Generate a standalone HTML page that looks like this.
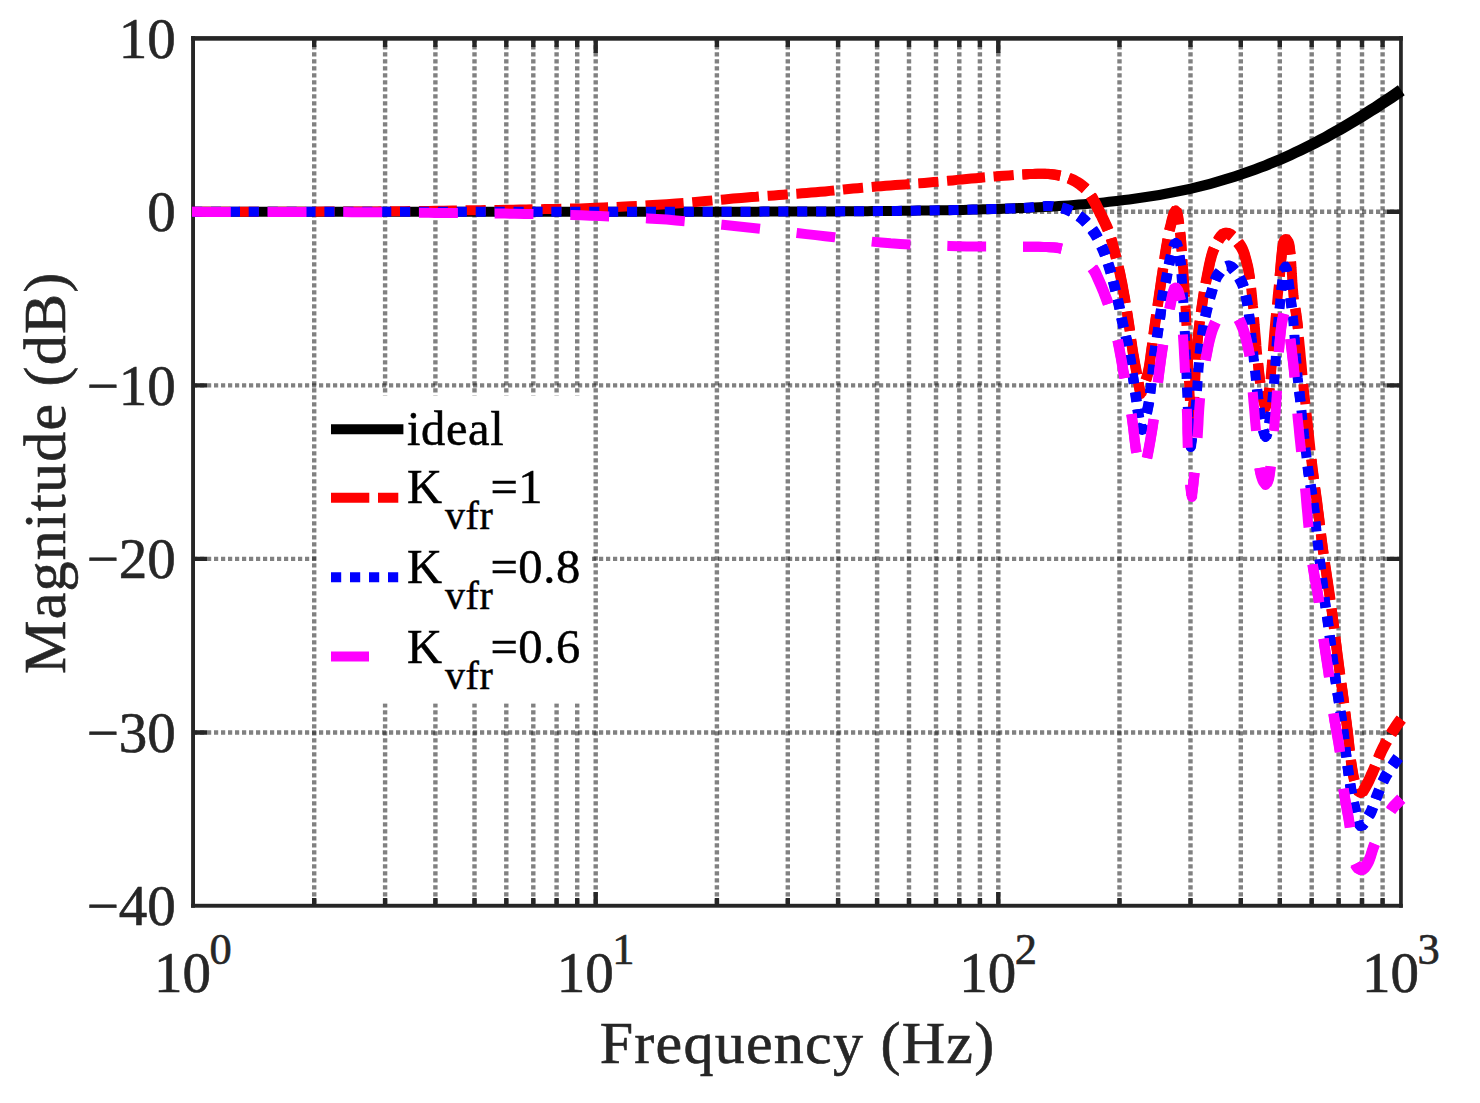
<!DOCTYPE html><html><head><meta charset="utf-8"><title>Bode magnitude</title>
<style>html,body{margin:0;padding:0;background:#fff}svg{display:block}text{font-family:"Liberation Serif",serif}</style></head><body>
<svg width="1480" height="1103" viewBox="0 0 1480 1103">
<rect width="1480" height="1103" fill="#fff"/>
<defs><clipPath id="ax"><rect x="192.0" y="38.3" width="1209.0" height="867.7"/></clipPath></defs>
<g fill="none" stroke="#262626" stroke-opacity="0.58" stroke-width="4.4" stroke-dasharray="4.2 2.8">
<path d="M314.2 38.3V906.0M385.1 38.3V906.0M435.4 38.3V906.0M474.5 38.3V906.0M506.3 38.3V906.0M533.3 38.3V906.0M556.6 38.3V906.0M577.2 38.3V906.0M595.7 38.3V906.0M716.9 38.3V906.0M787.8 38.3V906.0M838.1 38.3V906.0M877.1 38.3V906.0M909.0 38.3V906.0M936.0 38.3V906.0M959.3 38.3V906.0M979.9 38.3V906.0M998.3 38.3V906.0M1119.5 38.3V906.0M1190.5 38.3V906.0M1240.8 38.3V906.0M1279.8 38.3V906.0M1311.7 38.3V906.0M1338.6 38.3V906.0M1362.0 38.3V906.0M1382.6 38.3V906.0"/>
<path d="M193.0 211.8H1401.0M193.0 385.4H1401.0M193.0 558.9H1401.0M193.0 732.5H1401.0"/>
</g>
<g fill="#262626" stroke="none">
<rect x="191.1" y="36.1" width="1211.7" height="4.6"/>
<rect x="191.1" y="903.8" width="1211.7" height="3.9"/>
<rect x="191.1" y="36.1" width="3.9" height="871.6"/>
<rect x="1399.1" y="36.1" width="3.7" height="871.6"/>
</g>
<g fill="none" stroke="#262626" stroke-width="4.4">
<path d="M314.2 904V897.9M314.2 40V47M385.1 904V897.9M385.1 40V47M435.4 904V897.9M435.4 40V47M474.5 904V897.9M474.5 40V47M506.3 904V897.9M506.3 40V47M533.3 904V897.9M533.3 40V47M556.6 904V897.9M556.6 40V47M577.2 904V897.9M577.2 40V47M595.7 904V891.9M595.7 40V53M716.9 904V897.9M716.9 40V47M787.8 904V897.9M787.8 40V47M838.1 904V897.9M838.1 40V47M877.1 904V897.9M877.1 40V47M909.0 904V897.9M909.0 40V47M936.0 904V897.9M936.0 40V47M959.3 904V897.9M959.3 40V47M979.9 904V897.9M979.9 40V47M998.3 904V891.9M998.3 40V53M1119.5 904V897.9M1119.5 40V47M1190.5 904V897.9M1190.5 40V47M1240.8 904V897.9M1240.8 40V47M1279.8 904V897.9M1279.8 40V47M1311.7 904V897.9M1311.7 40V47M1338.6 904V897.9M1338.6 40V47M1362.0 904V897.9M1362.0 40V47M1382.6 904V897.9M1382.6 40V47M194 211.8H207M1400 211.8H1387M194 385.4H207M1400 385.4H1387M194 558.9H207M1400 558.9H1387M194 732.5H207M1400 732.5H1387"/>
</g>
<g fill="none" stroke-linejoin="round">
<path d="M192.0 216.8L193.0 216.8L198.0 216.8L203.1 216.8L208.1 216.8L213.1 216.8L218.2 216.8L223.2 216.8L228.2 216.8L233.3 216.8L238.3 216.8L243.3 216.8L248.4 216.8L253.4 216.8L258.4 216.8L263.5 216.8L268.5 216.8L273.5 216.8L278.6 216.8L283.6 216.8L288.6 216.8L293.7 216.8L298.7 216.8L303.7 216.8L308.8 216.8L313.8 216.8L318.8 216.8L323.9 216.8L328.9 216.8L333.9 216.8L339.0 216.8L344.0 216.8L349.0 216.8L354.1 216.8L359.1 216.8L364.1 216.8L369.2 216.8L374.2 216.8L379.2 216.8L384.3 216.8L389.3 216.8L394.3 216.8L399.4 216.8L404.4 216.8L409.4 216.8L414.5 216.8L419.5 216.8L424.5 216.8L429.6 216.8L434.6 216.8L439.6 216.8L444.7 216.8L449.7 216.8L454.7 216.8L459.8 216.8L464.8 216.8L469.8 216.8L474.9 216.8L479.9 216.8L484.9 216.8L490.0 216.8L495.0 216.8L500.0 216.8L505.1 216.8L510.1 216.8L515.1 216.8L520.2 216.8L525.2 216.8L530.2 216.8L535.3 216.8L540.3 216.8L545.3 216.8L550.4 216.8L555.4 216.8L560.4 216.8L565.5 216.8L570.5 216.8L575.5 216.8L580.6 216.8L585.6 216.8L590.6 216.8L595.7 216.8L600.7 216.8L605.7 216.8L610.8 216.8L615.8 216.8L620.8 216.8L625.9 216.8L630.9 216.8L635.9 216.8L641.0 216.8L646.0 216.8L651.0 216.8L656.1 216.8L661.1 216.8L666.1 216.8L671.2 216.8L676.2 216.8L681.2 216.8L686.3 216.8L691.3 216.8L696.3 216.7L701.4 216.7L706.4 216.7L711.4 216.7L716.5 216.7L721.5 216.7L726.5 216.7L731.6 216.7L736.6 216.7L741.6 216.7L746.7 216.7L751.7 216.7L756.7 216.7L761.8 216.6L766.8 216.6L771.8 216.6L776.9 216.6L781.9 216.6L786.9 216.6L792.0 216.6L797.0 216.5L802.1 216.5L807.1 216.5L812.1 216.5L817.2 216.5L822.2 216.4L827.2 216.4L832.3 216.4L837.3 216.4L842.3 216.3L847.4 216.3L852.4 216.3L857.4 216.2L862.5 216.2L867.5 216.2L872.5 216.1L877.6 216.1L882.6 216.0L887.6 216.0L892.7 215.9L897.7 215.9L902.8 215.8L907.8 215.8L912.8 215.7L917.9 215.6L922.9 215.6L927.9 215.5L933.0 215.4L938.0 215.3L943.1 215.3L948.1 215.2L953.1 215.1L958.2 215.0L963.2 214.9L968.3 214.7L973.3 214.6L978.3 214.5L983.4 214.3L988.4 214.2L993.5 214.0L998.5 213.9L1003.5 213.7L1008.6 213.5L1013.6 213.3L1018.7 213.1L1023.7 212.9L1028.8 212.7L1033.8 212.5L1038.9 212.2L1043.9 211.9L1049.0 211.7L1054.0 211.4L1059.1 211.1L1064.1 210.7L1069.2 210.4L1074.2 210.0L1079.3 209.6L1084.3 209.2L1089.4 208.8L1094.4 208.3L1099.5 207.9L1104.5 207.4L1109.6 206.8L1114.7 206.3L1119.7 205.7L1124.8 205.1L1129.9 204.5L1134.9 203.8L1140.0 203.1L1145.1 202.3L1150.1 201.5L1155.2 200.7L1160.3 199.9L1165.3 199.0L1170.4 198.0L1175.5 197.1L1180.6 196.0L1185.7 195.0L1190.7 193.9L1195.8 192.7L1200.9 191.5L1206.0 190.2L1211.1 188.9L1216.2 187.5L1221.2 186.1L1226.3 184.6L1231.4 183.1L1236.5 181.5L1241.6 179.8L1246.7 178.1L1251.8 176.3L1256.9 174.5L1262.0 172.6L1267.1 170.7L1272.2 168.6L1277.3 166.6L1282.4 164.4L1287.5 162.2L1292.6 159.9L1297.6 157.6L1302.7 155.2L1307.8 152.8L1312.9 150.3L1318.0 147.7L1323.1 145.0L1328.2 142.4L1333.3 139.6L1338.4 136.8L1343.5 133.9L1348.6 131.0L1353.6 128.0L1358.7 125.0L1363.8 121.9L1368.9 118.8L1374.0 115.6L1379.1 112.4L1384.1 109.1L1389.2 105.8L1394.3 102.4L1399.4 99.0L1404.7 95.3L1397.9 85.3L1392.6 89.0L1387.6 92.4L1382.6 95.8L1377.6 99.1L1372.6 102.4L1367.6 105.6L1362.6 108.8L1357.6 111.9L1352.7 115.0L1347.7 118.0L1342.7 121.0L1337.7 123.9L1332.7 126.8L1327.8 129.6L1322.8 132.4L1317.8 135.0L1312.8 137.7L1307.9 140.3L1302.9 142.8L1297.9 145.2L1293.0 147.6L1288.0 149.9L1283.0 152.2L1278.0 154.4L1273.1 156.6L1268.1 158.6L1263.1 160.7L1258.2 162.6L1253.2 164.5L1248.2 166.3L1243.2 168.1L1238.3 169.8L1233.3 171.5L1228.3 173.1L1223.3 174.6L1218.4 176.1L1213.4 177.5L1208.4 178.9L1203.4 180.2L1198.4 181.5L1193.5 182.7L1188.5 183.9L1183.5 185.0L1178.5 186.0L1173.5 187.1L1168.5 188.0L1163.5 189.0L1158.5 189.9L1153.5 190.7L1148.5 191.5L1143.5 192.3L1138.5 193.1L1133.5 193.8L1128.5 194.5L1123.5 195.1L1118.5 195.7L1113.5 196.3L1108.5 196.8L1103.5 197.4L1098.5 197.9L1093.5 198.3L1088.5 198.8L1083.5 199.2L1078.5 199.6L1073.5 200.0L1068.4 200.4L1063.4 200.7L1058.4 201.1L1053.4 201.4L1048.4 201.7L1043.4 201.9L1038.3 202.2L1033.3 202.5L1028.3 202.7L1023.3 202.9L1018.3 203.1L1013.2 203.3L1008.2 203.5L1003.2 203.7L998.2 203.9L993.1 204.0L988.1 204.2L983.1 204.3L978.1 204.5L973.0 204.6L968.0 204.7L963.0 204.9L958.0 205.0L952.9 205.1L947.9 205.2L942.9 205.3L937.8 205.3L932.8 205.4L927.8 205.5L922.8 205.6L917.7 205.6L912.7 205.7L907.7 205.8L902.6 205.8L897.6 205.9L892.6 205.9L887.6 206.0L882.5 206.0L877.5 206.1L872.5 206.1L867.4 206.2L862.4 206.2L857.4 206.2L852.3 206.3L847.3 206.3L842.3 206.3L837.2 206.4L832.2 206.4L827.2 206.4L822.1 206.4L817.1 206.5L812.1 206.5L807.0 206.5L802.0 206.5L797.0 206.5L792.0 206.6L786.9 206.6L781.9 206.6L776.9 206.6L771.8 206.6L766.8 206.6L761.8 206.6L756.7 206.7L751.7 206.7L746.7 206.7L741.6 206.7L736.6 206.7L731.6 206.7L726.5 206.7L721.5 206.7L716.5 206.7L711.4 206.7L706.4 206.7L701.4 206.7L696.3 206.7L691.3 206.8L686.3 206.8L681.2 206.8L676.2 206.8L671.2 206.8L666.1 206.8L661.1 206.8L656.1 206.8L651.0 206.8L646.0 206.8L641.0 206.8L635.9 206.8L630.9 206.8L625.9 206.8L620.8 206.8L615.8 206.8L610.8 206.8L605.7 206.8L600.7 206.8L595.7 206.8L590.6 206.8L585.6 206.8L580.6 206.8L575.5 206.8L570.5 206.8L565.5 206.8L560.4 206.8L555.4 206.8L550.4 206.8L545.3 206.8L540.3 206.8L535.3 206.8L530.2 206.8L525.2 206.8L520.2 206.8L515.1 206.8L510.1 206.8L505.1 206.8L500.0 206.8L495.0 206.8L490.0 206.8L484.9 206.8L479.9 206.8L474.9 206.8L469.8 206.8L464.8 206.8L459.8 206.8L454.7 206.8L449.7 206.8L444.7 206.8L439.6 206.8L434.6 206.8L429.6 206.8L424.5 206.8L419.5 206.8L414.5 206.8L409.4 206.8L404.4 206.8L399.4 206.8L394.3 206.8L389.3 206.8L384.3 206.8L379.2 206.8L374.2 206.8L369.2 206.8L364.1 206.8L359.1 206.8L354.1 206.8L349.0 206.8L344.0 206.8L339.0 206.8L333.9 206.8L328.9 206.8L323.9 206.8L318.8 206.8L313.8 206.8L308.8 206.8L303.7 206.8L298.7 206.8L293.7 206.8L288.6 206.8L283.6 206.8L278.6 206.8L273.5 206.8L268.5 206.8L263.5 206.8L258.4 206.8L253.4 206.8L248.4 206.8L243.3 206.8L238.3 206.8L233.3 206.8L228.2 206.8L223.2 206.8L218.2 206.8L213.1 206.8L208.1 206.8L203.1 206.8L198.0 206.8L193.0 206.8L192.0 206.8Z" fill="#000" stroke="none"/>
<path d="M192.0 211.8L193.0 211.8L208.4 211.8L224.1 211.8L239.9 211.8L255.6 211.8L271.1 211.8L286.2 211.7L300.6 211.7L314.2 211.7L324.1 211.6L333.6 211.6L342.7 211.6L351.6 211.5L360.3 211.5L368.7 211.4L377.0 211.4L385.1 211.3L391.8 211.3L398.1 211.2L404.2 211.2L410.3 211.1L416.3 211.0L422.4 211.0L428.8 210.9L435.4 210.8L443.8 210.7L452.6 210.6L461.7 210.4L470.9 210.3L480.1 210.2L489.2 210.0L498.0 209.9L506.3 209.8L513.1 209.7L519.7 209.5L526.1 209.4L532.4 209.3L538.6 209.2L544.7 209.1L550.7 209.0L556.6 208.9L561.7 208.8L566.5 208.7L571.1 208.6L575.7 208.5L580.4 208.4L585.2 208.2L590.3 208.0L595.7 207.8L603.5 207.5L611.9 207.2L620.6 206.8L629.7 206.3L638.9 205.9L648.2 205.3L657.5 204.8L666.6 204.2L676.0 203.5L685.7 202.8L695.6 201.9L705.4 201.1L715.1 200.2L724.4 199.4L733.2 198.6L741.3 198.0L746.6 197.5L751.6 197.1L756.3 196.8L760.9 196.4L765.3 196.0L769.8 195.7L774.2 195.4L778.8 195.0L783.4 194.7L788.1 194.3L792.7 194.0L797.3 193.7L801.9 193.3L806.5 193.0L811.1 192.6L815.7 192.2L820.4 191.8L825.1 191.4L829.8 190.9L834.4 190.4L839.1 190.0L843.8 189.5L848.5 189.0L853.2 188.6L857.8 188.2L862.5 187.8L867.2 187.4L871.8 187.0L876.5 186.6L881.2 186.2L885.9 185.8L890.6 185.5L895.4 185.1L900.2 184.7L905.0 184.4L909.8 184.0L914.7 183.6L919.5 183.3L924.3 182.9L929.1 182.5L933.8 182.1L938.5 181.7L943.2 181.2L947.9 180.8L952.5 180.4L957.2 179.9L961.9 179.5L966.6 179.0L971.3 178.6L976.0 178.2L980.7 177.7L985.4 177.3L990.1 176.9L994.8 176.5L999.5 176.1L1004.2 175.7L1009.0 175.4L1014.0 175.0L1019.2 174.7L1024.2 174.4L1029.2 174.1L1033.8 173.9L1038.0 173.7L1041.6 173.7L1043.4 173.7L1045.0 173.8L1046.5 173.9L1047.9 174.0L1049.2 174.1L1050.5 174.2L1051.7 174.3L1053.0 174.5L1054.0 174.6L1055.0 174.8L1055.9 174.9L1056.8 175.0L1057.7 175.2L1058.6 175.4L1059.5 175.6L1060.5 175.8L1061.6 176.1L1062.8 176.3L1063.9 176.6L1065.1 177.0L1066.3 177.3L1067.4 177.7L1068.6 178.1L1069.7 178.5L1070.8 178.9L1071.8 179.4L1072.9 179.9L1073.9 180.5L1074.9 181.0L1075.9 181.6L1076.9 182.2L1077.9 182.8L1078.9 183.5L1079.9 184.2L1080.9 184.9L1081.9 185.6L1082.8 186.4L1083.8 187.2L1084.6 188.0L1085.5 188.8L1086.3 189.6L1087.0 190.4L1087.6 191.1L1088.3 192.0L1088.9 192.8L1089.6 193.7L1090.2 194.7L1090.9 195.7L1091.9 197.4L1093.0 199.2L1094.1 201.2L1095.2 203.3L1096.3 205.5L1097.4 207.7L1098.5 209.9L1099.6 212.0L1100.7 214.2L1101.8 216.4L1102.9 218.7L1104.0 221.0L1105.1 223.2L1106.1 225.4L1107.0 227.5L1107.8 229.4L1108.3 230.7L1108.8 231.8L1109.2 233.0L1109.6 234.0L1110.0 235.1L1110.3 236.2L1110.7 237.4L1111.1 238.7L1111.6 240.5L1112.2 242.5L1112.7 244.5L1113.3 246.6L1113.8 248.7L1114.3 250.9L1114.9 253.0L1115.4 255.0L1115.9 256.9L1116.4 258.7L1116.8 260.5L1117.3 262.3L1117.8 264.1L1118.3 266.0L1118.7 267.9L1119.2 270.0L1119.8 272.8L1120.5 275.9L1121.1 279.0L1121.7 282.3L1122.4 285.5L1123.0 288.9L1123.6 292.2L1124.2 295.4L1124.8 298.6L1125.3 301.8L1125.9 305.1L1126.4 308.3L1126.9 311.5L1127.5 314.8L1128.0 318.1L1128.5 321.5L1129.1 325.2L1129.6 329.0L1130.1 332.9L1130.7 336.8L1131.2 340.7L1131.8 344.6L1132.3 348.3L1132.9 352.0L1133.4 355.2L1134.0 358.3L1134.5 361.4L1135.1 364.4L1135.6 367.4L1136.2 370.3L1136.7 373.2L1137.2 376.0L1137.6 378.4L1138.1 380.8L1138.5 383.1L1138.9 385.4L1139.3 387.6L1139.7 389.9L1140.1 392.1L1140.5 394.4L1141.4 392.0L1142.3 389.6L1143.3 387.2L1144.2 384.8L1145.1 382.3L1146.0 379.9L1146.8 377.4L1147.5 374.8L1148.2 372.0L1148.7 369.1L1149.2 366.1L1149.7 363.2L1150.1 360.1L1150.5 357.1L1150.9 354.0L1151.3 350.9L1151.8 347.5L1152.3 344.0L1152.8 340.4L1153.3 336.9L1153.7 333.3L1154.2 329.7L1154.7 326.1L1155.2 322.6L1155.7 319.1L1156.2 315.6L1156.7 312.2L1157.2 308.7L1157.7 305.2L1158.2 301.8L1158.7 298.4L1159.2 295.0L1159.7 291.8L1160.1 288.7L1160.6 285.5L1161.0 282.4L1161.5 279.3L1161.9 276.2L1162.4 273.2L1162.8 270.3L1163.2 267.7L1163.5 265.3L1163.9 262.8L1164.2 260.4L1164.6 258.0L1164.9 255.6L1165.3 253.2L1165.7 250.7L1166.1 248.0L1166.6 245.3L1167.1 242.5L1167.5 239.7L1168.0 237.0L1168.6 234.2L1169.2 231.5L1169.8 228.9L1170.5 226.3L1171.2 223.3L1172.0 220.2L1172.8 217.2L1173.6 214.6L1174.4 212.4L1175.1 211.0L1175.8 210.5L1176.5 211.3L1177.2 213.3L1177.8 216.2L1178.4 219.8L1179.0 223.7L1179.5 227.6L1180.0 231.3L1180.4 234.4L1180.7 236.6L1180.9 238.7L1181.1 240.7L1181.2 242.7L1181.3 244.7L1181.4 246.7L1181.6 248.7L1181.7 250.7L1181.9 252.7L1182.0 254.7L1182.2 256.7L1182.4 258.7L1182.5 260.7L1182.7 262.8L1182.8 264.8L1183.0 267.0L1183.2 269.6L1183.4 272.2L1183.6 274.9L1183.8 277.7L1184.0 280.4L1184.1 283.2L1184.3 286.0L1184.5 288.8L1184.7 291.7L1184.8 294.5L1185.0 297.4L1185.2 300.2L1185.3 303.1L1185.5 306.0L1185.6 309.0L1185.8 312.0L1186.0 315.4L1186.2 318.7L1186.3 322.2L1186.5 325.6L1186.7 329.2L1186.9 332.7L1187.0 336.3L1187.2 340.0L1187.4 344.2L1187.6 348.5L1187.8 353.0L1187.9 357.4L1188.1 361.9L1188.3 366.3L1188.5 370.7L1188.7 375.0L1188.9 378.9L1189.1 382.9L1189.2 386.8L1189.4 390.7L1189.6 394.5L1189.8 398.2L1190.0 401.7L1190.2 405.0L1190.4 407.4L1190.5 409.6L1190.7 411.7L1190.8 413.8L1191.0 415.8L1191.2 417.9L1191.3 419.9L1191.5 422.0L1191.8 419.9L1192.0 417.9L1192.3 415.8L1192.5 413.8L1192.8 411.7L1193.0 409.6L1193.3 407.4L1193.5 405.0L1193.8 401.7L1194.1 398.1L1194.3 394.5L1194.5 390.7L1194.8 386.8L1195.0 382.8L1195.3 378.9L1195.5 375.0L1195.7 370.8L1196.0 366.5L1196.2 362.2L1196.4 357.9L1196.7 353.5L1196.9 349.2L1197.2 344.8L1197.6 340.5L1198.0 336.1L1198.5 331.7L1199.0 327.3L1199.6 322.9L1200.1 318.6L1200.7 314.3L1201.3 310.1L1201.9 306.0L1202.4 302.6L1202.9 299.3L1203.4 296.2L1203.9 293.0L1204.4 289.9L1205.0 286.8L1205.6 283.5L1206.3 280.2L1207.1 276.2L1207.9 272.0L1208.8 267.6L1209.7 263.2L1210.7 258.9L1211.8 254.8L1213.1 251.0L1214.5 247.6L1215.7 245.2L1217.0 242.7L1218.3 240.3L1219.7 238.0L1221.2 236.0L1222.7 234.4L1224.3 233.3L1225.9 232.8L1227.6 233.0L1229.6 234.0L1231.6 235.4L1233.6 237.3L1235.6 239.4L1237.4 241.7L1239.1 243.9L1240.6 246.0L1241.8 248.0L1242.9 250.2L1243.8 252.4L1244.6 254.7L1245.3 257.0L1245.9 259.4L1246.5 261.7L1247.1 264.0L1247.6 266.1L1248.1 268.2L1248.5 270.3L1248.9 272.4L1249.2 274.5L1249.6 276.6L1249.9 278.8L1250.2 281.0L1250.6 283.5L1250.9 286.0L1251.2 288.5L1251.5 291.1L1251.8 293.7L1252.0 296.4L1252.3 299.2L1252.6 302.0L1252.9 305.5L1253.3 309.2L1253.6 312.9L1253.9 316.7L1254.3 320.6L1254.6 324.6L1255.0 328.5L1255.3 332.5L1255.7 336.8L1256.1 341.3L1256.4 345.9L1256.8 350.4L1257.2 355.0L1257.6 359.5L1258.1 363.8L1258.5 368.0L1258.9 371.5L1259.3 375.0L1259.7 378.4L1260.1 381.8L1260.5 385.0L1261.0 388.2L1261.5 391.2L1262.0 394.0L1262.4 396.0L1262.8 397.8L1263.3 399.6L1263.7 401.3L1264.2 402.9L1264.7 404.6L1265.1 406.3L1265.6 408.0L1266.0 406.0L1266.5 404.1L1266.9 402.2L1267.4 400.3L1267.8 398.4L1268.2 396.4L1268.6 394.2L1269.0 392.0L1269.5 388.7L1269.9 385.2L1270.3 381.4L1270.7 377.6L1271.0 373.7L1271.3 369.7L1271.7 365.8L1272.0 362.0L1272.3 358.3L1272.6 354.7L1272.9 351.0L1273.1 347.4L1273.4 343.8L1273.7 340.1L1274.0 336.3L1274.3 332.5L1274.7 328.1L1275.1 323.6L1275.5 318.9L1276.0 314.2L1276.4 309.6L1276.9 305.1L1277.3 300.7L1277.7 296.6L1278.0 293.6L1278.3 290.6L1278.6 287.8L1278.9 285.0L1279.1 282.3L1279.4 279.7L1279.6 277.0L1279.9 274.4L1280.1 272.0L1280.3 269.7L1280.5 267.3L1280.7 265.0L1280.9 262.8L1281.1 260.5L1281.3 258.4L1281.5 256.3L1281.7 254.6L1281.9 252.9L1282.0 251.2L1282.2 249.5L1282.4 247.9L1282.7 246.4L1283.0 245.0L1283.3 243.8L1283.6 243.0L1283.8 242.2L1284.1 241.4L1284.5 240.6L1284.8 240.0L1285.1 239.5L1285.5 239.1L1285.8 239.0L1286.1 239.1L1286.5 239.4L1286.9 239.9L1287.3 240.5L1287.6 241.2L1288.0 241.9L1288.3 242.6L1288.6 243.3L1288.9 244.2L1289.2 245.2L1289.4 246.2L1289.6 247.3L1289.7 248.4L1289.9 249.6L1290.0 250.8L1290.2 252.0L1290.4 253.5L1290.6 255.1L1290.7 256.7L1290.9 258.3L1291.0 260.0L1291.1 261.8L1291.3 263.5L1291.4 265.3L1291.5 267.4L1291.7 269.7L1291.8 272.0L1291.9 274.3L1292.1 276.6L1292.2 278.9L1292.3 281.2L1292.5 283.5L1292.7 285.6L1292.8 287.7L1293.0 289.7L1293.2 291.7L1293.3 293.8L1293.5 295.8L1293.8 297.9L1294.0 300.0L1294.3 302.3L1294.6 304.6L1295.0 306.9L1295.4 309.3L1295.8 311.7L1296.2 314.1L1296.5 316.7L1296.9 319.4L1297.4 323.2L1297.8 327.3L1298.3 331.5L1298.7 335.8L1299.2 340.3L1299.6 344.8L1300.1 349.3L1300.5 353.7L1300.9 358.3L1301.4 362.9L1301.8 367.5L1302.2 372.2L1302.6 376.9L1303.1 381.6L1303.5 386.3L1304.0 391.0L1304.5 395.9L1305.1 400.9L1305.6 405.9L1306.2 410.9L1306.8 415.9L1307.4 420.9L1308.0 425.9L1308.5 430.8L1309.0 435.6L1309.5 440.4L1310.0 445.1L1310.5 449.9L1310.9 454.6L1311.4 459.4L1312.0 464.1L1312.5 468.8L1313.1 473.5L1313.7 478.1L1314.3 482.7L1314.9 487.3L1315.6 491.9L1316.2 496.6L1316.9 501.3L1317.5 506.0L1318.1 511.0L1318.8 516.1L1319.4 521.2L1320.0 526.3L1320.6 531.5L1321.2 536.7L1321.9 542.0L1322.6 547.3L1323.4 553.1L1324.3 559.2L1325.2 565.4L1326.1 571.6L1327.0 577.7L1327.9 583.6L1328.7 589.2L1329.5 594.4L1330.0 597.9L1330.4 601.1L1330.9 604.1L1331.3 607.0L1331.7 610.0L1332.1 613.0L1332.5 616.3L1333.0 619.8L1333.7 625.4L1334.5 631.7L1335.4 638.4L1336.3 645.3L1337.1 652.2L1338.0 658.9L1338.8 665.1L1339.5 670.6L1340.0 673.9L1340.4 677.0L1340.8 679.8L1341.2 682.6L1341.6 685.3L1342.0 688.1L1342.4 691.0L1342.8 694.1L1343.4 698.3L1343.9 702.6L1344.5 707.1L1345.1 711.8L1345.7 716.5L1346.3 721.2L1346.9 725.8L1347.5 730.4L1348.0 734.9L1348.6 739.6L1349.1 744.3L1349.5 749.0L1350.1 753.6L1350.6 758.0L1351.1 762.1L1351.7 766.0L1352.1 768.6L1352.5 771.1L1352.9 773.5L1353.3 775.8L1353.8 778.0L1354.3 780.1L1354.9 782.1L1355.5 784.0L1356.0 785.4L1356.6 786.9L1357.3 788.4L1357.9 789.8L1358.6 791.1L1359.3 792.1L1360.0 792.7L1360.7 793.0L1361.3 792.8L1362.0 792.3L1362.7 791.6L1363.3 790.6L1364.0 789.5L1364.7 788.3L1365.3 787.1L1366.0 786.0L1366.8 784.6L1367.6 783.1L1368.4 781.5L1369.2 779.8L1370.0 778.1L1370.8 776.3L1371.6 774.4L1372.5 772.5L1373.6 769.9L1374.8 767.1L1376.0 764.1L1377.2 761.1L1378.4 758.0L1379.7 754.9L1381.1 751.9L1382.5 749.0L1384.1 746.0L1385.7 743.0L1387.5 739.9L1389.3 736.9L1391.1 734.0L1392.8 731.2L1394.5 728.6L1396.0 726.3L1396.9 724.9L1397.9 723.7L1398.7 722.5L1399.6 721.4L1400.4 720.3L1401.3 719.2L1401.3 719.2" stroke="#f00" stroke-width="10" stroke-dasharray="38.1 8.7 20.2 8.6 38.1 8.7 20.2 8.6 38.1 8.7 20.2 8.7 38.1 8.6 20.2 8.7 38.1 8.6 20.2 8.7 38.1 8.6 20.2 8.7 38.1 8.7 20.2 8.6 38.1 8.7 20.2 8.6 38.1 8.7 20.2 8.7 38.1 8.6 20.2 8.7 38.1 8.6 20.2 8.7 38.1 8.6 20.2 8.7 38.5 8.8 20.4 8.7 37.3 8.5 19.7 8.5 35.7 8.2 18.9 8.1 37.8 8.5 20 8.6 38.6 8.8 20.5 8.8 35.7 8.1 18.9 8.2 37.9 8.6 20.1 8.6 37.9 8.6 20 8.7 37.9 8.6 20 8.7 38.6 8.7 20.5 8.8 36.4 8.3 19.3 8.3 39.2 8.9 20.7 8.9 37.5 8.5 19.8 8.5 37.5 8.5 19.8 8.5 38 8.6 20.1 8.6 55 7.1 38.4 8.7 20.3 8.7 38.4 8.7 20.3 8.8 37.9 8.6 20.2 8.6 37.9 8.6 20.2 8.6 37.9 8.7 20.1 8.6 38 8.7 20.1 8.7 39.4 8.9 20.9 9 36.4 8.2 19.3 8.3 17.8 99999"/>
<path d="M1022.7 179.6L1025.2 179.4L1027.8 179.3L1030.3 179.1L1032.8 179.0L1035.3 178.9L1037.7 178.8L1040.2 178.7L1042.6 178.7L1045.0 178.9L1047.4 179.1L1049.8 179.3L1052.2 179.6L1054.6 180.0L1056.9 180.5L1059.2 181.0L1061.4 170.5L1058.9 170.0L1056.1 169.6L1053.5 169.3L1050.8 169.0L1048.2 168.8L1045.5 168.7L1042.8 168.7L1040.1 168.7L1037.5 168.7L1034.9 168.8L1032.3 168.9L1029.8 169.0L1027.2 169.1L1024.6 169.2L1022.1 169.4ZM1066.6 183.3L1068.7 184.2L1070.7 185.2L1072.7 186.3L1074.6 187.5L1076.4 188.8L1078.2 190.2L1079.9 191.6L1081.6 193.2L1089.6 184.6L1087.6 182.8L1085.4 181.0L1083.1 179.3L1080.8 177.8L1078.4 176.4L1075.9 175.1L1073.3 173.9L1070.8 172.9ZM1086.0 198.7L1087.3 200.8L1088.5 202.9L1089.7 205.1L1090.8 207.3L1092.0 209.5L1093.1 211.8L1094.3 214.1L1095.4 216.4L1096.6 218.6L1097.7 220.9L1098.8 223.2L1099.9 225.5L1100.9 227.7L1101.9 230.0L1102.9 232.3L1113.3 228.0L1112.3 225.5L1111.2 223.1L1110.1 220.7L1109.0 218.3L1107.9 216.0L1106.8 213.6L1105.6 211.3L1104.5 209.0L1103.3 206.7L1102.1 204.4L1101.0 202.1L1099.8 199.7L1098.5 197.4L1097.2 195.0L1095.8 192.7ZM1105.8 239.9L1106.5 242.3L1107.2 244.7L1107.8 247.1L1108.4 249.6L1109.1 252.0L1109.7 254.5L1110.3 257.0L1111.0 259.5L1121.5 256.7L1120.8 254.3L1120.2 251.8L1119.5 249.4L1118.9 246.9L1118.3 244.4L1117.6 241.9L1117.0 239.3L1116.2 236.8ZM1113.2 267.8L1113.8 270.4L1114.4 272.9L1114.9 275.5L1115.5 278.1L1116.0 280.6L1116.5 283.2L1117.0 285.8L1117.5 288.4L1118.0 291.0L1118.5 293.6L1119.0 296.2L1119.4 298.8L1119.9 301.4L1120.4 304.1L1130.8 302.3L1130.3 299.6L1129.9 297.0L1129.4 294.4L1128.9 291.7L1128.4 289.1L1128.0 286.5L1127.5 283.8L1127.0 281.2L1126.4 278.6L1125.9 275.9L1125.4 273.3L1124.8 270.6L1124.2 268.0L1123.6 265.4ZM1121.7 312.4L1122.2 315.1L1122.6 317.9L1123.1 320.7L1123.5 323.5L1123.9 326.2L1124.3 329.0L1124.7 331.8L1135.1 330.3L1134.7 327.5L1134.3 324.7L1133.9 321.9L1133.4 319.1L1133.0 316.3L1132.6 313.5L1132.1 310.7ZM1125.9 340.2L1126.2 342.7L1126.6 345.3L1126.9 347.8L1127.3 350.4L1127.7 352.9L1128.1 355.5L1128.6 358.0L1129.0 360.6L1129.4 363.1L1129.9 365.6L1130.4 368.1L1130.8 370.6L1131.3 373.1L1131.7 375.6L1142.2 373.7L1141.7 371.2L1141.3 368.7L1140.8 366.2L1140.3 363.7L1139.9 361.2L1139.4 358.7L1139.0 356.2L1138.5 353.7L1138.1 351.2L1137.7 348.8L1137.3 346.3L1137.0 343.8L1136.6 341.2L1136.2 338.7ZM1133.2 383.6L1133.7 386.3L1134.1 388.9L1134.6 391.6L1135.3 396.1L1146.0 395.7L1147.2 392.3L1148.2 389.9L1137.8 385.8L1136.8 388.3L1136.1 390.0L1145.3 390.5L1145.0 389.7L1144.6 387.1L1144.1 384.4L1143.6 381.7ZM1151.1 381.9L1151.9 379.4L1152.6 376.8L1153.2 374.2L1153.7 371.5L1154.1 368.9L1154.5 366.4L1154.9 363.8L1155.2 361.3L1155.5 358.7L1155.8 356.3L1156.2 353.8L1156.5 351.3L1156.9 348.9L1157.2 346.3L1157.6 343.8L1147.2 342.4L1146.9 344.9L1146.5 347.4L1146.2 349.9L1145.8 352.4L1145.5 354.9L1145.2 357.4L1144.8 359.9L1144.5 362.3L1144.1 364.7L1143.7 367.1L1143.2 369.5L1142.7 371.8L1142.1 374.0L1141.4 376.2L1140.6 378.5ZM1158.7 335.3L1159.1 332.8L1159.4 330.4L1159.7 327.9L1160.1 325.4L1160.4 323.0L1160.8 320.5L1161.1 318.0L1161.5 315.6L1151.1 314.1L1150.8 316.5L1150.4 319.0L1150.1 321.5L1149.7 324.0L1149.4 326.5L1149.0 329.0L1148.7 331.5L1148.4 333.9ZM1162.7 307.1L1163.1 304.5L1163.5 302.0L1163.9 299.4L1164.2 296.9L1164.6 294.3L1165.0 291.8L1165.3 289.3L1165.7 286.7L1166.1 284.2L1166.4 281.6L1166.8 279.1L1167.2 276.5L1167.6 274.0L1167.9 271.4L1168.3 268.9L1157.9 267.4L1157.6 269.9L1157.2 272.4L1156.8 275.0L1156.4 277.5L1156.1 280.1L1155.7 282.6L1155.3 285.2L1155.0 287.7L1154.6 290.3L1154.2 292.8L1153.8 295.4L1153.5 297.9L1153.1 300.5L1152.7 303.0L1152.4 305.6ZM1169.5 260.2L1169.9 257.7L1170.3 255.2L1170.7 252.7L1171.1 250.2L1171.5 247.6L1172.0 245.1L1172.4 242.6L1172.8 240.1L1162.4 238.3L1162.0 240.8L1161.6 243.4L1161.1 245.9L1160.7 248.5L1160.3 251.0L1159.9 253.6L1159.5 256.1L1159.2 258.7ZM1174.6 231.9L1175.2 229.4L1175.8 227.0L1176.5 224.5L1177.1 222.1L1177.7 219.7L1178.5 217.4L1179.2 215.4L1178.0 216.0L1172.0 215.2L1172.2 215.6L1172.7 217.8L1173.2 220.1L1173.6 222.6L1173.9 225.1L1184.3 223.6L1183.9 221.1L1183.6 218.5L1183.2 215.8L1182.6 213.0L1181.4 208.4L1172.2 206.1L1168.8 211.3L1168.0 214.2L1167.3 216.8L1166.6 219.3L1166.0 221.9L1165.4 224.4L1164.8 226.8L1164.1 229.3ZM1175.0 233.1L1175.3 235.7L1175.6 238.3L1175.9 240.9L1176.1 243.5L1176.3 246.2L1176.4 248.9L1176.6 251.6L1186.9 250.9L1186.6 248.2L1186.5 245.6L1186.3 242.8L1186.1 240.1L1185.9 237.2L1185.6 234.5L1185.3 231.7ZM1185.4 409.9L1185.6 412.4L1185.8 415.0L1186.0 417.5L1186.2 420.0L1193.6 427.1L1197.0 420.0L1197.3 417.5L1197.6 415.0L1197.9 412.5L1198.2 409.9L1198.5 407.4L1198.7 404.8L1198.9 402.2L1199.1 399.7L1199.3 397.1L1189.0 396.4L1188.9 398.9L1188.7 401.4L1188.4 403.9L1188.2 406.3L1187.9 408.8L1187.6 411.2L1187.3 413.7L1187.0 416.2L1186.7 418.7L1189.4 416.7L1196.4 419.2L1196.2 416.7L1196.0 414.1L1195.8 411.6L1195.6 409.1ZM1201.4 359.8L1201.6 357.2L1201.7 354.7L1201.9 352.1L1202.0 349.6L1202.2 347.1L1202.4 344.5L1202.6 342.0L1202.9 339.5L1203.1 337.0L1203.4 334.4L1203.7 331.9L1204.0 329.4L1204.3 326.8L1204.6 324.3L1205.0 321.8L1194.6 320.4L1194.3 323.0L1194.0 325.6L1193.7 328.1L1193.4 330.7L1193.1 333.3L1192.9 335.9L1192.6 338.5L1192.4 341.1L1192.2 343.7L1192.0 346.3L1191.8 348.9L1191.7 351.5L1191.5 354.1L1191.4 356.7L1191.3 359.3ZM1206.2 313.1L1206.5 310.6L1206.9 308.1L1207.3 305.6L1207.6 303.0L1208.0 300.5L1208.4 298.0L1208.8 295.5L1209.2 293.0L1198.8 291.3L1198.4 293.8L1198.0 296.4L1197.6 298.9L1197.3 301.5L1196.9 304.0L1196.5 306.6L1196.2 309.1L1195.8 311.7ZM1210.8 284.6L1211.4 282.0L1211.9 279.5L1212.4 276.9L1212.9 274.3L1213.4 271.8L1213.9 269.2L1214.4 266.7L1214.9 264.3L1215.5 261.8L1216.2 259.4L1216.8 257.1L1217.6 254.8L1218.4 252.6L1219.4 250.4L1209.1 246.0L1208.0 248.6L1207.2 251.3L1206.4 254.0L1205.7 256.7L1205.1 259.3L1204.5 261.9L1203.9 264.6L1203.4 267.2L1202.9 269.7L1202.4 272.3L1201.9 274.8L1201.4 277.4L1200.9 279.9L1200.4 282.5ZM1222.9 243.8L1224.3 241.6L1225.5 240.0L1226.5 238.9L1226.4 238.2L1226.4 238.5L1227.1 239.4L1228.9 240.9L1236.3 231.9L1233.7 229.8L1229.8 228.0L1224.4 227.7L1219.5 229.6L1216.6 232.5L1214.6 235.3L1213.1 237.8ZM1233.4 246.0L1234.9 248.0L1236.2 249.8L1237.2 251.6L1238.2 253.6L1239.1 255.7L1239.8 258.0L1240.5 260.3L1241.2 262.8L1241.9 265.3L1242.5 267.7L1243.1 270.1L1243.5 272.6L1244.0 275.0L1244.4 277.6L1244.8 280.1L1255.1 278.6L1254.8 276.0L1254.4 273.4L1254.0 270.7L1253.5 268.0L1253.0 265.3L1252.3 262.6L1251.7 260.1L1251.0 257.5L1250.3 254.9L1249.5 252.1L1248.6 249.4L1247.4 246.6L1246.0 243.8L1244.4 241.3L1242.8 239.1ZM1252.9 364.0L1253.2 366.8L1253.5 369.7L1253.8 372.5L1254.1 375.3L1254.4 378.2L1254.8 381.0L1255.1 383.8L1265.5 382.5L1265.1 379.7L1264.8 376.9L1264.4 374.1L1264.1 371.3L1263.8 368.5L1263.5 365.7L1263.2 362.9ZM1256.3 392.5L1256.8 395.3L1257.4 398.0L1258.0 400.8L1258.7 403.5L1259.4 406.0L1260.8 410.8L1271.2 408.0L1271.8 404.8L1272.4 402.2L1273.0 399.5L1273.5 396.8L1274.0 394.0L1274.4 391.3L1274.7 388.6L1264.4 387.2L1264.0 389.8L1263.6 392.3L1263.1 394.8L1262.6 397.3L1262.0 399.8L1261.4 402.4L1260.8 404.4L1269.9 403.5L1269.9 403.1L1269.2 400.6L1268.5 398.1L1267.8 395.6L1267.3 393.2L1266.8 390.6ZM1284.9 276.7L1285.1 274.0L1285.3 271.4L1285.5 268.8L1285.7 266.2L1286.0 263.6L1286.2 261.0L1286.5 258.5L1286.8 255.9L1287.0 253.3L1287.3 250.7L1287.7 248.4L1288.2 246.3L1289.0 244.4L1288.9 244.2L1283.9 244.6L1282.9 244.3L1283.7 245.9L1284.3 247.8L1284.7 250.1L1285.0 252.7L1285.4 255.2L1295.7 254.0L1295.4 251.4L1295.1 248.7L1294.7 245.9L1294.2 242.7L1293.1 239.4L1289.5 234.6L1280.7 235.9L1278.5 240.6L1277.7 243.7L1277.3 246.7L1277.0 249.5L1276.7 252.2L1276.5 254.8L1276.2 257.4L1275.9 260.1L1275.7 262.7L1275.5 265.3L1275.3 267.9L1275.1 270.5L1274.8 273.1L1274.6 275.7ZM1290.1 309.4L1290.5 311.9L1290.9 314.4L1291.3 316.9L1291.6 319.3L1291.9 321.8L1292.3 324.3L1292.6 326.8L1292.8 329.3L1303.1 328.2L1302.9 325.6L1302.6 323.1L1302.3 320.5L1302.0 318.0L1301.6 315.4L1301.3 312.8L1300.9 310.3L1300.5 307.7ZM1306.3 460.0L1306.6 462.5L1306.8 465.1L1307.1 467.6L1307.4 470.1L1307.7 472.6L1308.0 475.1L1308.4 477.6L1308.7 480.1L1319.0 478.8L1318.7 476.3L1318.4 473.8L1318.1 471.3L1317.7 468.8L1317.4 466.4L1317.2 463.9L1316.9 461.4L1316.6 458.9ZM1309.9 488.7L1310.2 491.2L1310.6 493.7L1310.9 496.2L1311.3 498.7L1311.6 501.2L1311.9 503.7L1312.3 506.2L1312.6 508.7L1312.9 511.2L1313.2 513.7L1313.5 516.2L1313.8 518.7L1314.1 521.2L1314.4 523.7L1314.7 526.2L1325.1 525.0L1324.8 522.5L1324.5 520.0L1324.2 517.5L1323.9 514.9L1323.6 512.4L1323.2 509.9L1322.9 507.4L1322.6 504.9L1322.3 502.3L1322.0 499.8L1321.6 497.3L1321.3 494.8L1320.9 492.3L1320.6 489.8L1320.2 487.3ZM1315.8 534.8L1316.1 537.3L1316.4 539.8L1316.7 542.3L1317.0 544.8L1317.3 547.3L1317.7 549.8L1318.0 552.3L1318.4 554.8L1328.7 553.4L1328.4 550.9L1328.0 548.4L1327.7 545.9L1327.4 543.5L1327.0 541.0L1326.7 538.5L1326.4 536.0L1326.1 533.5ZM1319.6 563.4L1320.0 565.9L1320.3 568.4L1320.7 570.9L1321.1 573.4L1321.5 575.9L1321.8 578.4L1322.2 580.9L1322.6 583.4L1323.0 585.9L1323.3 588.4L1323.7 590.9L1324.1 593.4L1324.4 595.9L1324.8 598.4L1325.1 600.9L1335.5 599.5L1335.2 597.0L1334.8 594.4L1334.4 591.9L1334.1 589.4L1333.7 586.9L1333.3 584.4L1333.0 581.9L1332.6 579.4L1332.2 576.9L1331.8 574.4L1331.5 571.9L1331.1 569.4L1330.7 566.9L1330.3 564.4L1330.0 561.9ZM1326.3 609.4L1326.7 611.9L1327.0 614.4L1327.3 616.9L1327.7 619.4L1328.0 621.9L1328.3 624.4L1328.7 626.9L1329.0 629.3L1339.3 628.0L1339.0 625.5L1338.7 623.0L1338.4 620.5L1338.0 618.0L1337.7 615.5L1337.4 613.0L1337.0 610.5L1336.7 608.0ZM1330.1 637.9L1330.4 640.4L1330.7 642.9L1331.0 645.4L1331.3 647.9L1331.7 650.5L1332.0 653.0L1332.3 655.5L1332.6 658.0L1332.9 660.5L1333.3 663.1L1333.6 665.6L1333.9 668.1L1334.2 670.6L1334.6 673.1L1334.9 675.7L1345.3 674.2L1344.9 671.7L1344.6 669.2L1344.3 666.7L1343.9 664.2L1343.6 661.7L1343.3 659.2L1343.0 656.7L1342.6 654.2L1342.3 651.7L1342.0 649.2L1341.7 646.6L1341.4 644.1L1341.0 641.6L1340.7 639.1L1340.4 636.6ZM1336.1 684.3L1336.5 686.7L1336.8 689.2L1337.2 691.7L1337.5 694.2L1337.9 696.7L1338.2 699.2L1338.5 701.7L1338.9 704.2L1349.2 702.8L1348.9 700.3L1348.6 697.8L1348.2 695.3L1347.9 692.8L1347.6 690.3L1347.2 687.8L1346.9 685.3L1346.5 682.8ZM1340.0 712.7L1340.3 715.3L1340.7 717.9L1341.0 720.5L1341.3 723.1L1341.7 725.7L1342.0 728.3L1342.3 730.9L1342.6 733.5L1342.9 736.1L1343.2 738.7L1343.5 741.3L1343.8 743.9L1344.1 746.5L1344.4 749.1L1344.6 751.7L1354.9 750.6L1354.7 748.0L1354.4 745.4L1354.1 742.8L1353.8 740.2L1353.5 737.6L1353.3 734.9L1353.0 732.3L1352.7 729.7L1352.3 727.0L1352.0 724.4L1351.7 721.8L1351.3 719.2L1351.0 716.6L1350.7 714.0L1350.3 711.4ZM1345.7 760.8L1346.0 763.4L1346.4 766.0L1346.8 768.6L1347.2 771.2L1347.6 773.9L1348.1 776.5L1348.6 779.3L1349.2 781.9L1359.7 779.3L1359.0 776.9L1358.5 774.6L1358.0 772.1L1357.6 769.5L1357.2 767.0L1356.8 764.4L1356.4 761.9L1356.0 759.4ZM1352.5 791.7L1354.2 794.9L1360.4 798.1L1367.0 795.5L1369.0 792.3L1370.3 789.9L1371.7 787.6L1373.0 785.1L1374.2 782.6L1375.3 780.1L1376.3 777.7L1377.4 775.4L1378.4 772.9L1379.5 770.4L1380.5 768.0L1370.1 763.8L1369.1 766.2L1368.1 768.5L1367.1 770.8L1366.0 773.1L1365.0 775.5L1363.9 777.8L1362.8 780.0L1361.7 782.0L1360.4 784.2L1359.2 786.4L1358.4 787.5L1361.0 787.9L1363.4 787.7L1362.6 786.3ZM1383.5 760.4L1384.6 757.9L1385.7 755.5L1386.8 753.1L1388.0 750.8L1389.2 748.5L1390.5 746.1L1391.9 743.8L1381.9 738.1L1380.5 740.5L1379.2 743.0L1377.9 745.6L1376.6 748.2L1375.4 750.8L1374.3 753.5L1373.2 756.0ZM1396.0 736.9L1397.4 734.8L1398.7 732.7L1400.1 730.6L1401.4 728.6L1402.8 726.7L1404.3 724.8L1405.9 722.8L1396.7 715.6L1395.1 717.6L1393.5 719.8L1391.9 722.0L1390.4 724.2L1389.0 726.4L1387.6 728.6L1386.3 730.8Z" fill="#f00"/>
<path d="M192.0 211.8L193.0 211.8L244.3 211.8L297.1 211.8L350.5 211.8L403.5 211.8L455.5 211.8L505.4 211.8L552.4 211.8L595.7 211.8L623.3 211.8L649.7 211.8L674.8 211.8L698.9 211.8L722.1 211.7L744.5 211.7L766.4 211.6L787.8 211.6L804.5 211.5L820.8 211.4L836.7 211.4L852.2 211.3L867.1 211.2L881.6 211.1L895.6 210.9L909.0 210.8L918.9 210.6L928.5 210.5L937.8 210.3L946.7 210.2L955.5 210.0L963.9 209.8L972.0 209.6L979.9 209.4L985.9 209.3L991.6 209.1L997.3 209.0L1002.7 208.8L1008.0 208.6L1013.1 208.4L1018.0 208.2L1022.8 208.0L1026.3 207.7L1029.8 207.4L1033.3 207.1L1036.6 206.7L1039.8 206.4L1042.7 206.2L1045.5 206.0L1048.0 206.0L1049.3 206.0L1050.6 206.1L1051.7 206.2L1052.8 206.3L1053.8 206.5L1054.8 206.6L1055.9 206.8L1057.0 207.0L1058.2 207.2L1059.4 207.4L1060.6 207.7L1061.8 207.9L1063.0 208.2L1064.2 208.6L1065.4 208.9L1066.5 209.3L1067.6 209.7L1068.7 210.2L1069.8 210.7L1070.8 211.2L1071.9 211.7L1072.9 212.3L1074.0 212.9L1075.0 213.5L1076.0 214.1L1077.1 214.8L1078.1 215.4L1079.1 216.1L1080.2 216.9L1081.1 217.6L1082.1 218.3L1083.0 219.1L1083.8 219.8L1084.6 220.6L1085.4 221.4L1086.1 222.2L1086.8 223.0L1087.6 223.8L1088.3 224.6L1089.0 225.5L1089.8 226.5L1090.6 227.4L1091.4 228.4L1092.1 229.5L1092.9 230.5L1093.6 231.5L1094.3 232.6L1095.0 233.6L1095.6 234.5L1096.1 235.4L1096.6 236.3L1097.1 237.2L1097.6 238.1L1098.0 239.1L1098.5 240.0L1099.0 241.0L1099.6 242.1L1100.1 243.3L1100.7 244.4L1101.2 245.6L1101.8 246.8L1102.4 248.0L1102.9 249.3L1103.5 250.7L1104.3 252.6L1105.0 254.7L1105.8 256.8L1106.6 259.0L1107.3 261.3L1108.1 263.6L1108.8 265.9L1109.5 268.1L1110.2 270.3L1110.8 272.5L1111.4 274.8L1112.1 277.0L1112.7 279.3L1113.2 281.5L1113.8 283.8L1114.4 286.0L1115.0 288.3L1115.5 290.5L1116.1 292.8L1116.6 295.0L1117.2 297.3L1117.7 299.6L1118.2 301.8L1118.7 304.1L1119.2 306.4L1119.7 308.7L1120.1 311.0L1120.6 313.3L1121.1 315.7L1121.5 318.0L1122.0 320.3L1122.5 322.6L1123.0 324.9L1123.6 327.2L1124.1 329.5L1124.7 331.8L1125.3 334.2L1125.8 336.5L1126.4 338.8L1126.9 341.1L1127.4 343.4L1127.9 345.7L1128.3 348.0L1128.7 350.3L1129.2 352.7L1129.6 355.0L1130.0 357.3L1130.4 359.6L1130.8 361.9L1131.2 364.2L1131.5 366.5L1131.8 368.8L1132.2 371.1L1132.5 373.4L1132.9 375.8L1133.2 378.1L1133.6 380.5L1133.9 383.0L1134.2 385.4L1134.6 387.8L1134.9 390.3L1135.3 392.8L1135.6 395.2L1136.0 397.7L1136.4 400.3L1136.7 402.9L1137.1 405.5L1137.4 408.2L1137.8 410.8L1138.2 413.3L1138.6 415.7L1139.0 418.0L1139.3 419.7L1139.7 421.2L1140.1 422.7L1140.5 424.2L1140.8 425.6L1141.2 427.1L1141.6 428.5L1142.0 430.0L1142.4 428.5L1142.9 427.0L1143.3 425.5L1143.8 424.1L1144.2 422.6L1144.7 421.1L1145.1 419.5L1145.5 418.0L1145.9 416.3L1146.3 414.6L1146.8 412.9L1147.2 411.1L1147.5 409.4L1147.9 407.6L1148.3 405.8L1148.6 404.0L1148.9 402.1L1149.2 400.1L1149.5 398.1L1149.8 396.1L1150.1 394.1L1150.3 392.1L1150.6 390.0L1150.8 388.0L1151.0 385.9L1151.3 383.7L1151.5 381.5L1151.7 379.4L1151.9 377.2L1152.1 375.0L1152.4 372.7L1152.6 370.5L1152.9 368.1L1153.1 365.6L1153.4 363.2L1153.6 360.7L1153.9 358.2L1154.2 355.7L1154.5 353.3L1154.8 350.9L1155.1 348.7L1155.5 346.5L1155.8 344.3L1156.2 342.2L1156.5 340.0L1156.9 337.9L1157.2 335.7L1157.6 333.5L1158.0 331.2L1158.3 328.9L1158.7 326.6L1159.0 324.3L1159.4 322.0L1159.7 319.7L1160.1 317.3L1160.4 315.0L1160.7 312.6L1161.0 310.1L1161.3 307.6L1161.5 305.2L1161.8 302.7L1162.1 300.2L1162.4 297.8L1162.8 295.4L1163.2 293.2L1163.6 291.0L1164.1 288.8L1164.6 286.6L1165.1 284.4L1165.6 282.3L1166.0 280.1L1166.5 277.9L1166.9 275.7L1167.3 273.4L1167.7 271.2L1168.1 268.9L1168.5 266.7L1169.0 264.4L1169.5 262.2L1170.0 260.0L1170.6 257.6L1171.3 254.9L1172.1 252.1L1172.8 249.3L1173.6 246.8L1174.4 244.8L1175.1 243.5L1175.8 243.0L1176.5 243.6L1177.1 245.1L1177.7 247.3L1178.3 250.0L1178.9 253.0L1179.4 256.1L1179.9 259.0L1180.3 261.6L1180.6 263.8L1180.9 265.9L1181.1 268.1L1181.2 270.2L1181.4 272.4L1181.5 274.5L1181.6 276.7L1181.8 279.0L1182.0 281.5L1182.2 284.0L1182.3 286.6L1182.5 289.1L1182.7 291.8L1182.9 294.4L1183.0 297.2L1183.2 300.0L1183.4 303.5L1183.6 307.1L1183.8 310.9L1184.0 314.7L1184.2 318.5L1184.3 322.4L1184.5 326.2L1184.7 330.0L1184.9 333.7L1185.0 337.5L1185.2 341.2L1185.4 344.9L1185.5 348.7L1185.7 352.4L1185.8 356.2L1186.0 360.0L1186.2 364.0L1186.3 368.1L1186.4 372.2L1186.6 376.3L1186.7 380.4L1186.9 384.5L1187.0 388.6L1187.2 392.7L1187.4 396.8L1187.5 400.9L1187.7 405.1L1187.9 409.3L1188.1 413.4L1188.3 417.4L1188.5 421.3L1188.7 425.0L1188.9 428.0L1189.1 430.8L1189.4 433.6L1189.6 436.3L1189.9 438.9L1190.1 441.6L1190.4 444.3L1190.6 447.0L1190.9 444.9L1191.2 442.8L1191.5 440.7L1191.8 438.6L1192.1 436.5L1192.4 434.4L1192.7 432.2L1193.0 430.0L1193.3 427.4L1193.7 424.7L1194.0 422.0L1194.3 419.2L1194.6 416.4L1194.9 413.6L1195.2 410.8L1195.5 408.0L1195.8 405.3L1196.0 402.5L1196.2 399.8L1196.5 397.0L1196.7 394.3L1196.9 391.6L1197.1 388.9L1197.3 386.3L1197.5 383.9L1197.6 381.5L1197.8 379.1L1197.9 376.8L1198.1 374.5L1198.3 372.2L1198.4 369.8L1198.6 367.5L1198.8 365.2L1199.0 362.8L1199.2 360.5L1199.4 358.1L1199.6 355.8L1199.8 353.5L1200.0 351.1L1200.3 348.8L1200.6 346.4L1200.9 344.1L1201.2 341.7L1201.5 339.4L1201.9 337.0L1202.3 334.7L1202.6 332.3L1203.0 330.0L1203.4 327.7L1203.7 325.5L1204.1 323.2L1204.5 321.0L1204.9 318.7L1205.4 316.5L1205.8 314.3L1206.3 312.0L1206.8 309.7L1207.4 307.3L1208.0 305.0L1208.6 302.6L1209.2 300.3L1209.8 297.9L1210.5 295.6L1211.2 293.3L1211.9 291.0L1212.5 288.6L1213.2 286.2L1213.9 283.9L1214.6 281.6L1215.4 279.4L1216.4 277.3L1217.5 275.4L1218.6 273.8L1219.8 272.1L1221.2 270.4L1222.6 268.8L1224.0 267.5L1225.5 266.4L1226.9 265.8L1228.3 265.6L1230.0 266.2L1231.8 267.4L1233.6 269.3L1235.4 271.6L1237.1 274.2L1238.7 276.9L1240.2 279.5L1241.5 281.9L1242.5 284.1L1243.4 286.4L1244.1 288.7L1244.8 291.0L1245.3 293.4L1245.8 295.8L1246.3 298.2L1246.8 300.6L1247.3 302.9L1247.7 305.3L1248.1 307.6L1248.4 310.0L1248.7 312.3L1249.0 314.7L1249.3 317.1L1249.6 319.4L1249.9 321.7L1250.2 324.0L1250.4 326.4L1250.7 328.7L1250.9 331.0L1251.1 333.3L1251.4 335.6L1251.6 338.0L1251.9 340.4L1252.1 342.9L1252.4 345.4L1252.6 347.9L1252.9 350.4L1253.1 352.8L1253.4 355.3L1253.6 357.7L1253.8 360.0L1254.1 362.2L1254.3 364.5L1254.5 366.7L1254.8 368.9L1255.0 371.2L1255.3 373.4L1255.5 375.7L1255.8 378.1L1256.0 380.5L1256.3 382.9L1256.6 385.3L1256.8 387.7L1257.1 390.1L1257.4 392.6L1257.7 395.0L1258.0 397.5L1258.3 400.0L1258.6 402.6L1258.9 405.2L1259.3 407.7L1259.6 410.2L1259.9 412.6L1260.3 415.0L1260.6 417.0L1261.0 419.0L1261.3 421.0L1261.7 423.0L1262.0 424.9L1262.4 426.7L1262.8 428.4L1263.2 430.0L1263.5 431.0L1263.8 431.9L1264.1 432.8L1264.4 433.7L1264.7 434.5L1265.0 435.3L1265.3 436.1L1265.6 437.0L1265.9 436.1L1266.2 435.3L1266.5 434.5L1266.8 433.7L1267.1 432.8L1267.4 431.9L1267.7 431.0L1268.0 430.0L1268.4 428.4L1268.7 426.7L1269.1 424.8L1269.4 422.9L1269.7 421.0L1270.0 419.0L1270.3 417.0L1270.6 415.0L1270.9 412.9L1271.2 410.8L1271.4 408.7L1271.7 406.6L1271.9 404.5L1272.1 402.3L1272.4 400.2L1272.6 398.0L1272.8 395.8L1273.1 393.5L1273.3 391.3L1273.5 389.1L1273.7 386.8L1273.9 384.5L1274.1 382.3L1274.3 380.0L1274.5 377.7L1274.7 375.3L1274.8 372.9L1275.0 370.6L1275.1 368.2L1275.3 365.8L1275.4 363.4L1275.6 361.0L1275.8 358.6L1275.9 356.1L1276.0 353.7L1276.2 351.2L1276.3 348.8L1276.5 346.3L1276.6 343.8L1276.8 341.4L1277.0 339.0L1277.1 336.5L1277.3 334.0L1277.5 331.6L1277.6 329.2L1277.8 326.7L1278.0 324.3L1278.2 321.9L1278.4 319.6L1278.6 317.4L1278.8 315.1L1279.1 312.9L1279.3 310.6L1279.5 308.4L1279.8 306.2L1280.0 303.9L1280.2 301.6L1280.5 299.2L1280.7 296.9L1280.9 294.5L1281.1 292.2L1281.4 289.8L1281.7 287.4L1282.0 285.1L1282.4 282.5L1282.8 279.6L1283.2 276.5L1283.6 273.5L1284.1 270.7L1284.5 268.5L1285.0 267.0L1285.4 266.5L1285.8 267.0L1286.3 268.5L1286.7 270.7L1287.2 273.4L1287.6 276.4L1288.0 279.5L1288.4 282.4L1288.8 285.0L1289.1 287.3L1289.4 289.5L1289.7 291.8L1290.0 294.0L1290.3 296.3L1290.6 298.5L1290.8 300.8L1291.1 303.0L1291.4 305.2L1291.7 307.4L1292.0 309.6L1292.2 311.7L1292.5 313.9L1292.8 316.2L1293.0 318.5L1293.3 321.0L1293.6 324.3L1293.9 327.8L1294.2 331.4L1294.4 335.1L1294.7 338.9L1295.0 342.6L1295.2 346.4L1295.5 350.0L1295.8 353.6L1296.0 357.1L1296.3 360.7L1296.6 364.3L1296.8 367.9L1297.1 371.3L1297.4 374.7L1297.7 378.0L1298.0 380.6L1298.2 383.2L1298.5 385.6L1298.8 388.0L1299.1 390.4L1299.4 392.9L1299.7 395.4L1300.0 398.0L1300.4 401.2L1300.7 404.5L1301.1 407.8L1301.5 411.2L1301.9 414.7L1302.2 418.1L1302.6 421.6L1303.0 425.0L1303.4 428.5L1303.8 432.1L1304.1 435.7L1304.5 439.3L1304.9 442.9L1305.3 446.4L1305.6 449.8L1306.0 453.0L1306.3 455.5L1306.6 457.9L1306.8 460.2L1307.1 462.4L1307.4 464.7L1307.7 466.9L1308.0 469.1L1308.3 471.4L1308.6 473.7L1309.0 476.1L1309.4 478.4L1309.8 480.7L1310.2 483.0L1310.6 485.4L1310.9 487.7L1311.3 490.0L1311.6 492.2L1312.0 494.4L1312.3 496.6L1312.7 498.7L1313.0 500.9L1313.3 503.2L1313.7 505.6L1314.0 508.2L1314.5 512.2L1315.0 516.4L1315.4 520.8L1315.9 525.5L1316.4 530.3L1316.9 535.2L1317.4 540.3L1318.0 545.4L1318.8 552.2L1319.7 559.6L1320.6 567.4L1321.5 575.2L1322.5 583.0L1323.4 590.3L1324.2 596.9L1325.0 602.6L1325.4 605.3L1325.7 607.6L1326.0 609.7L1326.3 611.6L1326.6 613.6L1327.0 615.7L1327.3 618.0L1327.7 620.7L1328.5 626.6L1329.4 633.7L1330.4 641.5L1331.5 649.8L1332.5 658.0L1333.6 665.8L1334.5 672.9L1335.3 678.7L1335.7 681.3L1336.0 683.7L1336.4 685.9L1336.7 687.9L1337.0 689.9L1337.3 691.9L1337.7 693.9L1338.0 696.0L1338.4 698.3L1338.7 700.7L1339.1 703.1L1339.5 705.5L1339.9 707.9L1340.3 710.3L1340.6 712.6L1341.0 715.0L1341.3 717.3L1341.7 719.5L1342.0 721.8L1342.3 724.0L1342.6 726.2L1342.9 728.5L1343.2 730.7L1343.5 733.0L1343.8 735.3L1344.1 737.7L1344.4 740.1L1344.7 742.5L1344.9 744.9L1345.2 747.2L1345.5 749.6L1345.8 752.0L1346.1 754.4L1346.4 756.8L1346.7 759.1L1347.0 761.5L1347.3 763.9L1347.6 766.3L1347.9 768.7L1348.2 771.0L1348.5 773.3L1348.8 775.5L1349.2 777.8L1349.5 780.0L1349.9 782.2L1350.2 784.5L1350.6 786.7L1351.0 789.0L1351.4 791.4L1351.9 793.7L1352.3 796.1L1352.8 798.5L1353.3 800.9L1353.8 803.3L1354.4 805.7L1355.0 808.0L1355.6 810.5L1356.2 813.3L1356.9 816.3L1357.6 819.1L1358.3 821.7L1359.0 823.8L1359.8 825.3L1360.7 826.0L1361.3 825.9L1362.0 825.5L1362.6 824.8L1363.3 823.9L1364.0 822.9L1364.7 821.9L1365.4 820.9L1366.0 820.0L1366.6 819.1L1367.2 818.3L1367.8 817.4L1368.4 816.5L1369.0 815.6L1369.5 814.6L1370.1 813.5L1370.7 812.4L1371.6 810.5L1372.4 808.4L1373.3 806.2L1374.1 803.8L1375.0 801.4L1375.8 799.0L1376.7 796.6L1377.6 794.3L1378.5 792.1L1379.4 789.9L1380.3 787.7L1381.2 785.5L1382.1 783.3L1383.1 781.2L1384.1 779.1L1385.2 777.0L1386.3 775.0L1387.5 773.0L1388.8 771.0L1390.1 769.1L1391.4 767.1L1392.7 765.3L1394.0 763.5L1395.2 761.7L1396.2 760.3L1397.2 758.9L1398.2 757.5L1399.1 756.2L1400.1 754.9L1401.1 753.6L1401.3 753.3" stroke="#00f" stroke-width="10" stroke-dasharray="10.2 8.7 10.2 8.7 10.2 8.7 10.2 8.7 10.2 8.8 10.1 8.8 10.1 8.8 10.1 8.8 10.2 8.7 10.2 8.7 10.2 8.7 10.2 8.7 10.2 8.8 10.1 8.8 10.1 8.8 10.1 8.8 10.1 8.8 10.2 8.7 10.2 8.7 10.2 8.7 10.2 8.8 10.1 8.8 10.1 8.8 10.1 8.8 10.1 8.8 10.2 8.7 10.2 8.7 10.2 8.7 10.2 8.8 10.1 8.8 10.1 8.8 10.1 8.8 10.1 8.8 10.2 8.7 10.2 8.7 10.2 8.7 10.2 8.8 10.1 8.8 10.1 8.8 10.1 8.8 10.1 8.8 10.2 8.7 10.2 8.7 10.2 8.7 10.2 8.8 10.1 8.9 10.2 8.8 10.3 8.7 10.2 8.8 10.1 8.6 9.9 8.6 10 8.5 10.1 8.8 10.1 8.8 10.1 8.8 10.2 8.9 10.2 8.8 9.5 7.6 8.7 7.6 11 11.3 11.7 8.7 10 8.7 10.1 8.6 10.1 8.6 10.1 8.6 10.1 8.6 9.9 8.4 9.8 8.4 9.7 8.4 9.8 8.5 9.9 8.5 10.1 8.8 10.3 8.9 10.2 8.8 10.1 8.7 10.2 8.7 10.2 8.7 10.3 9.1 10.5 9 10.5 9.1 10.4 8.9 10.3 8.8 10.3 8.9 10.2 8.5 10 8.6 10 8.6 10 8.8 10.2 8.8 10.1 8.7 10 8.5 10 8.7 10.2 8.8 10.2 8.8 10.2 8.8 10.1 8.7 10.2 8.7 10.1 8.8 10.1 8.8 11.3 10.9 11.9 9.7 11.3 9.8 10.5 8.3 9.6 8.3 10.1 9.1 10.5 9.1 10.2 8.5 9.9 8.6 10.2 9.1 10.2 8.4 9.8 8.4 9.8 8.5 10 8.8 10.2 8.8 10.3 8.8 10.2 8.7 10.1 8.8 10.1 8.7 10.2 8.7 10.1 8.6 10 8.6 10 8.7 10 8.6 10 8.6 10.2 8.9 10.3 8.9 10.4 8.9 10.3 8.9 10.3 8.9 10.3 8.8 10.3 8.9 10.3 8.9 10.3 8.8 10 8.4 9.8 8.4 9.8 8.5 9.8 8.5 10.1 8.8 10.3 8.8 10.1 8.6 10 8.6 9.9 8.6 10 8.6 10.1 99999"/>
<path d="M1060.4 213.2L1062.7 213.8L1064.8 214.6L1066.8 215.5L1068.9 216.6L1073.8 206.4L1071.4 205.2L1068.6 204.2L1065.8 203.3L1063.1 202.7ZM1075.5 220.7L1077.5 222.1L1079.2 223.5L1080.7 225.0L1082.3 226.7L1090.9 218.7L1089.0 216.7L1086.8 214.7L1084.5 212.9L1082.3 211.3ZM1087.5 232.9L1088.9 234.9L1090.2 236.8L1091.4 238.7L1092.5 240.8L1102.6 235.5L1101.4 233.1L1099.9 230.6L1098.4 228.3L1096.9 226.1ZM1096.3 248.4L1097.3 250.6L1098.3 252.7L1099.2 255.0L1100.1 257.3L1110.5 253.4L1109.6 251.0L1108.7 248.5L1107.7 246.1L1106.6 243.7ZM1102.8 265.1L1103.8 268.3L1104.8 271.4L1105.7 274.5L1116.2 271.5L1115.3 268.2L1114.3 265.0L1113.3 261.8ZM1107.9 282.6L1108.8 285.8L1109.6 289.0L1110.4 292.2L1120.9 289.6L1120.1 286.4L1119.2 283.1L1118.4 279.9ZM1112.4 300.4L1112.9 302.9L1113.5 305.3L1114.0 307.7L1114.5 310.1L1125.0 308.0L1124.5 305.5L1123.9 303.0L1123.4 300.5L1122.8 298.1ZM1116.2 318.7L1116.7 321.3L1117.3 323.8L1117.8 326.3L1118.4 328.8L1128.9 326.3L1128.3 323.9L1127.7 321.5L1127.2 319.1L1126.7 316.6ZM1120.5 337.3L1121.1 339.8L1121.7 342.2L1122.2 344.6L1122.7 347.1L1133.1 345.0L1132.6 342.5L1132.1 339.9L1131.6 337.4L1131.0 334.9ZM1124.3 355.6L1124.8 358.1L1125.2 360.5L1125.6 363.0L1126.0 365.5L1136.4 363.9L1136.0 361.3L1135.6 358.8L1135.2 356.2L1134.7 353.7ZM1127.3 374.2L1127.7 376.7L1128.1 379.3L1128.4 381.8L1128.8 384.3L1139.2 382.8L1138.8 380.3L1138.4 377.8L1138.1 375.2L1137.7 372.7ZM1130.0 393.1L1130.5 396.2L1130.9 399.3L1131.4 402.5L1141.7 401.0L1141.3 397.9L1140.9 394.7L1140.4 391.6ZM1132.4 410.0L1132.8 412.9L1133.3 415.9L1133.8 418.8L1144.2 416.9L1143.7 414.1L1143.2 411.3L1142.8 408.5ZM1135.5 426.6L1136.2 429.6L1145.4 434.3L1148.2 428.4L1149.0 425.8L1138.5 422.7L1137.7 425.3L1138.9 424.7L1146.7 426.1L1146.0 423.8ZM1151.9 414.4L1152.5 411.6L1153.1 408.6L1153.7 405.7L1154.2 402.8L1143.8 400.9L1143.3 403.8L1142.7 406.5L1142.1 409.3L1141.4 412.1ZM1155.3 393.9L1155.6 391.4L1155.9 388.9L1156.2 386.3L1156.5 383.8L1146.2 382.7L1145.9 385.2L1145.6 387.6L1145.3 390.1L1145.0 392.6ZM1159.3 356.6L1159.6 354.1L1160.0 351.7L1160.3 349.3L1160.7 346.8L1150.3 345.2L1150.0 347.7L1149.6 350.3L1149.3 352.8L1149.0 355.4ZM1162.2 338.3L1162.6 335.9L1162.9 333.4L1163.3 330.9L1163.7 328.4L1153.3 326.8L1152.9 329.2L1152.6 331.7L1152.2 334.2L1151.7 336.6ZM1165.0 319.8L1165.4 317.3L1165.7 314.7L1166.0 312.2L1166.3 309.6L1156.0 308.5L1155.7 310.9L1155.3 313.4L1155.0 315.8L1154.6 318.3ZM1167.3 301.2L1167.7 298.0L1168.3 294.9L1168.9 291.7L1158.5 289.7L1157.8 293.0L1157.3 296.4L1156.9 299.7ZM1170.7 283.6L1171.4 280.4L1172.1 277.1L1172.6 273.9L1162.2 272.0L1161.6 275.1L1161.0 278.2L1160.3 281.3ZM1174.2 265.8L1174.9 262.7L1175.7 259.7L1176.5 256.6L1166.0 253.9L1165.2 257.0L1164.4 260.2L1163.7 263.5ZM1178.7 249.3L1178.5 248.6L1172.4 248.2L1172.5 249.1L1183.0 245.8L1181.2 240.5L1171.0 239.6L1168.4 245.0ZM1174.2 256.7L1174.7 259.9L1175.2 263.1L1175.7 266.2L1186.0 264.9L1185.6 261.6L1185.1 258.2L1184.6 255.0ZM1195.4 449.1L1196.1 446.6L1196.4 443.6L1196.8 441.1L1197.1 438.5L1186.8 437.0L1186.4 439.6L1186.0 442.1L1185.6 444.3L1185.6 442.8ZM1198.3 429.6L1198.6 427.0L1198.9 424.5L1199.2 421.9L1199.5 419.3L1189.2 418.1L1188.9 420.7L1188.6 423.2L1188.3 425.8L1188.0 428.3ZM1204.9 354.1L1205.3 350.9L1205.7 347.6L1206.1 344.4L1195.8 343.0L1195.4 346.4L1195.0 349.7L1194.6 353.1ZM1207.4 336.0L1207.8 333.5L1208.2 331.1L1208.6 328.6L1209.0 326.1L1198.6 324.4L1198.2 326.9L1197.8 329.4L1197.4 331.9L1197.0 334.4ZM1210.6 317.7L1211.1 315.2L1211.6 312.8L1212.2 310.4L1212.8 307.9L1202.3 305.4L1201.7 307.9L1201.2 310.5L1200.6 313.0L1200.1 315.6ZM1215.0 299.7L1215.7 297.3L1216.4 294.9L1217.1 292.4L1217.8 289.9L1207.3 287.0L1206.7 289.4L1206.0 291.8L1205.2 294.2L1204.5 296.7ZM1220.3 282.5L1221.5 279.8L1223.0 277.5L1224.9 275.0L1215.5 268.2L1213.4 271.1L1211.4 274.5L1210.0 277.9ZM1226.9 271.1L1227.8 271.0L1227.7 271.7L1228.7 272.7L1230.1 274.3L1239.0 266.8L1237.1 264.6L1234.4 262.2L1230.0 260.6L1226.1 260.9ZM1234.3 280.6L1235.5 282.8L1236.6 284.8L1237.5 286.7L1238.4 288.9L1248.8 285.1L1247.9 282.5L1246.8 279.8L1245.5 277.3L1244.3 275.0ZM1240.5 296.6L1241.0 299.1L1241.6 301.6L1242.1 304.1L1242.5 306.5L1252.9 304.7L1252.5 302.1L1252.0 299.5L1251.5 297.0L1251.0 294.5ZM1243.8 315.0L1244.1 317.5L1244.4 320.0L1244.7 322.5L1245.0 325.0L1255.4 323.8L1255.1 321.3L1254.8 318.7L1254.4 316.2L1254.1 313.7ZM1251.9 390.0L1252.2 392.5L1252.5 395.1L1252.8 397.6L1253.1 400.1L1263.4 398.9L1263.1 396.3L1262.8 393.8L1262.5 391.3L1262.2 388.8ZM1254.1 408.9L1254.5 411.7L1254.9 414.6L1255.4 417.4L1255.8 420.3L1266.2 418.5L1265.8 415.7L1265.3 413.0L1264.9 410.2L1264.5 407.5ZM1258.0 431.6L1258.9 434.6L1260.5 439.1L1270.9 438.9L1272.4 434.7L1262.0 430.8L1261.4 432.2L1269.8 432.1L1269.3 431.1L1268.4 428.4ZM1274.5 424.1L1275.0 421.3L1275.4 418.4L1275.8 415.6L1276.2 412.8L1265.8 411.4L1265.4 414.2L1265.0 416.9L1264.6 419.7L1264.1 422.4ZM1286.5 290.7L1286.8 288.2L1287.2 285.7L1287.5 283.2L1287.9 280.6L1277.5 279.3L1277.2 281.8L1276.8 284.3L1276.5 286.9L1276.2 289.5ZM1289.3 272.0L1289.7 270.5L1283.7 272.0L1281.2 270.5L1281.7 272.6L1292.1 270.7L1291.6 267.8L1287.6 261.6L1279.3 266.5L1278.8 269.9ZM1282.9 280.7L1283.4 284.0L1283.8 287.2L1284.3 290.4L1294.7 289.0L1294.2 285.7L1293.7 282.5L1293.3 279.3ZM1285.3 298.7L1285.7 302.0L1286.1 305.2L1286.5 308.5L1296.9 307.1L1296.5 303.9L1296.1 300.7L1295.7 297.5ZM1294.1 392.3L1294.4 394.8L1294.7 397.3L1295.0 399.8L1295.3 402.4L1305.6 401.2L1305.3 398.7L1305.0 396.1L1304.7 393.6L1304.4 391.1ZM1302.5 467.2L1302.8 469.7L1303.1 472.3L1303.5 474.8L1303.9 477.3L1314.3 475.6L1313.9 473.2L1313.5 470.8L1313.1 468.3L1312.8 465.9ZM1305.3 485.8L1305.7 488.3L1306.1 490.7L1306.5 493.2L1306.9 495.7L1317.3 494.0L1316.9 491.6L1316.5 489.1L1316.1 486.6L1315.7 484.1ZM1308.2 504.1L1308.6 507.4L1309.1 510.6L1309.4 513.9L1319.8 512.7L1319.4 509.4L1319.0 506.0L1318.5 502.7ZM1314.5 559.9L1314.8 562.5L1315.1 565.1L1315.4 567.6L1315.7 570.2L1326.0 569.0L1325.7 566.4L1325.4 563.8L1325.1 561.3L1324.8 558.7ZM1316.8 579.1L1317.1 581.6L1317.4 584.2L1317.7 586.8L1318.0 589.3L1328.4 588.0L1328.0 585.5L1327.7 582.9L1327.4 580.4L1327.1 577.8ZM1319.2 598.2L1319.5 600.8L1319.8 603.3L1320.2 605.9L1320.5 608.5L1330.9 607.0L1330.5 604.4L1330.2 601.9L1329.8 599.4L1329.5 596.8ZM1321.9 617.3L1322.3 619.8L1322.6 622.3L1323.0 624.9L1323.3 627.4L1333.7 626.0L1333.4 623.5L1333.0 620.9L1332.7 618.3L1332.3 615.8ZM1324.5 636.2L1324.8 638.8L1325.2 641.3L1325.5 643.9L1325.8 646.4L1336.2 645.1L1335.8 642.5L1335.5 640.0L1335.2 637.4L1334.8 634.9ZM1326.9 655.2L1327.3 657.8L1327.6 660.3L1327.9 662.9L1328.3 665.5L1338.6 664.1L1338.3 661.6L1337.9 659.0L1337.6 656.5L1337.3 653.9ZM1329.4 674.3L1329.8 676.9L1330.1 679.4L1330.5 682.0L1330.9 684.6L1341.2 683.0L1340.9 680.5L1340.5 678.0L1340.1 675.4L1339.8 672.9ZM1332.2 693.4L1332.7 695.9L1333.1 698.4L1333.5 701.0L1333.9 703.5L1344.3 701.8L1343.9 699.3L1343.5 696.8L1343.1 694.2L1342.6 691.7ZM1335.3 712.2L1335.6 714.7L1336.0 717.1L1336.4 719.6L1336.7 722.1L1347.1 720.6L1346.7 718.1L1346.4 715.6L1346.0 713.1L1345.6 710.6ZM1337.9 730.3L1338.3 733.6L1338.7 736.8L1339.1 740.0L1349.5 738.7L1349.1 735.5L1348.7 732.2L1348.2 729.0ZM1340.1 748.3L1340.5 751.6L1340.9 754.8L1341.3 758.0L1351.6 756.8L1351.2 753.5L1350.8 750.3L1350.4 747.1ZM1342.3 766.5L1342.8 769.8L1343.2 773.1L1343.7 776.3L1354.0 774.9L1353.6 771.6L1353.1 768.4L1352.7 765.2ZM1344.9 784.9L1345.3 787.4L1345.8 789.9L1346.2 792.4L1346.7 794.9L1357.1 792.9L1356.7 790.5L1356.2 788.0L1355.8 785.6L1355.3 783.1ZM1348.4 803.8L1349.0 806.3L1349.6 808.8L1350.3 811.2L1350.8 813.7L1361.3 811.3L1360.7 808.8L1360.1 806.2L1359.5 803.8L1358.9 801.3ZM1352.9 822.9L1353.8 825.9L1357.8 830.7L1365.6 829.9L1368.5 826.7L1359.3 819.6L1359.1 820.3L1362.7 820.5L1364.0 821.1L1363.3 819.4ZM1373.7 818.8L1375.4 815.7L1376.9 812.3L1378.1 809.1L1367.7 805.0L1366.6 807.9L1365.3 810.6L1363.7 813.2ZM1381.0 800.9L1382.2 797.9L1383.4 794.8L1384.7 791.8L1374.3 787.6L1373.0 790.7L1371.8 793.8L1370.6 797.0ZM1387.9 784.2L1389.4 781.3L1390.9 778.6L1392.5 775.9L1382.6 770.0L1380.9 773.0L1379.2 776.2L1377.7 779.3ZM1397.1 769.1L1398.5 767.0L1400.0 765.0L1401.4 763.0L1402.9 760.9L1393.5 754.1L1392.0 756.2L1390.5 758.3L1389.0 760.4L1387.6 762.5Z" fill="#00f"/>
<path d="M192.0 211.8L193.0 211.8L208.4 211.9L224.1 211.9L239.9 211.9L255.6 211.9L271.1 211.9L286.2 211.9L300.6 212.0L314.2 212.0L324.1 212.0L333.6 212.1L342.7 212.1L351.6 212.2L360.3 212.2L368.7 212.2L377.0 212.3L385.1 212.4L391.7 212.4L398.0 212.5L404.1 212.5L410.1 212.6L416.1 212.7L422.2 212.7L428.7 212.8L435.4 212.9L444.5 213.0L454.1 213.1L464.0 213.1L474.1 213.2L484.4 213.3L494.7 213.4L504.9 213.6L514.9 213.7L524.4 213.9L533.9 214.1L543.3 214.3L552.7 214.5L562.1 214.7L571.5 215.0L580.9 215.3L590.3 215.7L599.9 216.0L609.4 216.4L618.9 216.9L628.5 217.3L638.0 217.8L647.6 218.4L657.1 219.0L666.6 219.6L676.0 220.4L685.3 221.2L694.7 222.0L704.0 222.9L713.3 223.9L722.7 224.8L732.0 225.8L741.3 226.8L750.6 227.7L759.9 228.8L769.2 229.8L778.5 230.9L787.8 231.9L797.1 233.0L806.4 234.1L815.7 235.1L825.1 236.2L834.4 237.3L843.8 238.4L853.1 239.5L862.4 240.6L871.8 241.6L881.2 242.5L890.6 243.3L900.2 243.9L909.9 244.5L919.8 244.9L929.6 245.3L939.3 245.6L948.8 245.9L957.9 246.2L966.6 246.4L973.3 246.5L979.8 246.6L986.2 246.6L992.4 246.7L998.4 246.7L1004.2 246.7L1009.7 246.7L1015.0 246.7L1018.7 246.7L1022.3 246.7L1025.7 246.7L1029.1 246.7L1032.3 246.7L1035.4 246.7L1038.5 246.8L1041.6 246.9L1044.2 247.0L1046.8 247.1L1049.3 247.2L1051.7 247.3L1054.1 247.5L1056.5 247.7L1058.8 248.1L1061.0 248.5L1062.9 249.0L1064.8 249.5L1066.6 250.2L1068.4 250.8L1070.1 251.6L1071.8 252.3L1073.4 253.1L1075.0 254.0L1076.4 254.8L1077.7 255.7L1079.0 256.6L1080.3 257.6L1081.5 258.6L1082.7 259.6L1083.8 260.6L1085.0 261.5L1086.0 262.3L1087.0 263.0L1088.0 263.8L1088.9 264.5L1089.9 265.2L1090.8 266.1L1091.6 267.0L1092.5 268.0L1093.6 269.5L1094.6 271.2L1095.5 273.0L1096.4 274.9L1097.3 276.9L1098.2 278.9L1099.1 280.9L1100.0 283.0L1101.0 285.4L1102.1 287.9L1103.2 290.5L1104.2 293.1L1105.2 295.8L1106.2 298.4L1107.1 301.0L1108.0 303.5L1108.7 305.7L1109.4 307.9L1110.1 310.1L1110.7 312.3L1111.3 314.4L1111.8 316.6L1112.4 318.8L1113.0 321.0L1113.6 323.3L1114.2 325.6L1114.8 327.8L1115.3 330.1L1115.9 332.5L1116.4 334.9L1117.0 337.5L1117.6 340.2L1118.4 344.2L1119.3 348.6L1120.1 353.1L1121.0 357.8L1121.8 362.7L1122.7 367.5L1123.5 372.3L1124.4 377.0L1125.3 381.6L1126.2 386.3L1127.1 390.9L1128.0 395.5L1128.9 400.2L1129.8 404.8L1130.6 409.4L1131.4 414.1L1132.1 418.9L1132.8 423.9L1133.4 429.0L1133.9 434.1L1134.5 439.0L1135.1 443.6L1135.7 447.9L1136.3 451.7L1136.7 453.7L1137.1 455.6L1137.5 457.4L1137.9 459.0L1138.3 460.6L1138.7 462.1L1139.1 463.6L1139.5 465.0L1139.8 466.1L1140.2 467.2L1140.5 468.2L1140.9 469.1L1141.2 470.1L1141.6 471.1L1141.9 472.0L1142.3 473.0L1142.6 472.1L1143.0 471.3L1143.3 470.4L1143.7 469.5L1144.0 468.7L1144.4 467.8L1144.7 466.9L1145.0 466.0L1145.3 465.1L1145.5 464.2L1145.8 463.3L1146.0 462.4L1146.2 461.5L1146.5 460.4L1146.7 459.3L1147.0 458.0L1147.7 454.6L1148.5 450.6L1149.3 446.0L1150.2 441.0L1151.1 435.8L1152.0 430.6L1152.8 425.4L1153.5 420.5L1154.1 415.8L1154.7 411.0L1155.3 406.2L1155.8 401.4L1156.3 396.6L1156.8 391.8L1157.3 387.1L1157.9 382.4L1158.5 377.9L1159.0 373.4L1159.6 368.9L1160.2 364.5L1160.8 360.0L1161.4 355.6L1162.1 351.1L1162.8 346.6L1163.5 341.9L1164.3 337.0L1165.1 332.1L1166.0 327.2L1166.8 322.3L1167.7 317.7L1168.6 313.2L1169.5 309.0L1170.2 305.7L1170.9 302.2L1171.7 298.6L1172.4 295.2L1173.2 292.2L1173.9 289.8L1174.7 288.1L1175.5 287.5L1176.1 287.8L1176.8 288.7L1177.5 290.0L1178.1 291.7L1178.8 293.7L1179.4 295.8L1180.0 297.9L1180.5 300.0L1181.1 303.5L1181.6 307.4L1181.9 311.6L1182.2 316.1L1182.3 320.7L1182.5 325.4L1182.7 330.1L1182.9 334.6L1183.2 339.3L1183.5 344.0L1183.8 348.8L1184.0 353.6L1184.3 358.4L1184.6 363.2L1184.8 368.0L1185.1 372.7L1185.3 377.3L1185.6 381.8L1185.8 386.3L1186.0 390.8L1186.2 395.3L1186.4 399.9L1186.6 404.4L1186.8 409.0L1187.0 413.8L1187.1 418.7L1187.2 423.6L1187.2 428.5L1187.3 433.4L1187.5 438.3L1187.6 443.2L1187.8 448.0L1188.0 452.8L1188.3 457.7L1188.6 462.6L1189.0 467.5L1189.3 472.3L1189.6 476.8L1190.0 480.9L1190.3 484.5L1190.5 486.4L1190.7 488.1L1190.9 489.7L1191.0 491.2L1191.2 492.6L1191.4 494.0L1191.6 495.5L1191.8 497.0L1192.1 494.0L1192.5 491.1L1192.8 488.2L1193.2 485.3L1193.5 482.3L1193.8 479.3L1194.2 476.2L1194.5 473.0L1194.9 468.9L1195.3 464.7L1195.7 460.3L1196.1 455.9L1196.5 451.4L1196.9 446.8L1197.2 442.3L1197.6 437.7L1197.9 432.9L1198.2 428.0L1198.5 423.1L1198.7 418.1L1199.0 413.2L1199.3 408.2L1199.7 403.3L1200.1 398.4L1200.6 393.6L1201.2 388.8L1201.7 384.0L1202.4 379.2L1203.1 374.4L1203.8 369.6L1204.6 364.9L1205.5 360.2L1206.4 355.5L1207.3 350.8L1208.2 346.0L1209.2 341.2L1210.3 336.6L1211.6 332.2L1212.9 328.1L1214.5 324.3L1215.8 321.5L1217.3 318.6L1218.8 315.7L1220.4 313.1L1222.0 310.7L1223.7 308.8L1225.4 307.5L1227.0 307.0L1228.5 307.2L1230.0 308.0L1231.6 309.3L1233.1 311.0L1234.7 312.9L1236.2 315.0L1237.6 317.2L1238.9 319.4L1240.7 322.8L1242.3 326.7L1243.8 331.0L1245.2 335.6L1246.4 340.3L1247.6 345.1L1248.6 349.9L1249.5 354.5L1250.3 359.1L1250.8 363.7L1251.3 368.4L1251.6 373.1L1251.8 377.8L1252.1 382.6L1252.3 387.3L1252.7 392.1L1253.1 397.0L1253.5 402.0L1254.0 407.1L1254.4 412.1L1254.8 417.1L1255.2 422.1L1255.7 427.1L1256.1 432.0L1256.5 436.7L1256.9 441.6L1257.3 446.6L1257.6 451.4L1258.0 456.1L1258.5 460.5L1259.0 464.5L1259.5 468.0L1259.8 469.7L1260.2 471.3L1260.5 472.8L1260.9 474.1L1261.3 475.4L1261.6 476.7L1262.1 477.8L1262.5 479.0L1262.9 479.9L1263.2 480.7L1263.6 481.4L1264.0 482.1L1264.4 482.8L1264.8 483.6L1265.2 484.3L1265.6 485.0L1266.0 484.3L1266.4 483.6L1266.7 482.9L1267.1 482.1L1267.5 481.4L1267.9 480.7L1268.2 479.9L1268.5 479.0L1268.9 477.8L1269.1 476.6L1269.4 475.3L1269.6 473.9L1269.8 472.5L1270.1 470.9L1270.3 469.3L1270.5 467.5L1270.9 463.9L1271.4 459.8L1271.8 455.3L1272.2 450.5L1272.7 445.6L1273.1 440.6L1273.5 435.6L1273.9 430.8L1274.3 425.9L1274.7 421.1L1275.2 416.1L1275.6 411.2L1276.0 406.2L1276.3 401.3L1276.7 396.3L1277.0 391.4L1277.3 386.5L1277.5 381.5L1277.7 376.5L1277.8 371.5L1278.0 366.6L1278.2 361.7L1278.5 356.8L1278.8 352.0L1279.2 347.4L1279.6 342.5L1280.1 337.6L1280.6 332.8L1281.1 328.3L1281.7 324.0L1282.3 320.2L1283.0 317.0L1283.4 315.5L1283.8 314.0L1284.2 312.6L1284.7 311.3L1285.1 310.1L1285.5 309.2L1285.9 308.7L1286.3 308.5L1286.9 309.4L1287.5 311.9L1288.0 315.5L1288.5 319.9L1288.9 324.8L1289.4 329.8L1289.8 334.7L1290.3 339.0L1290.8 343.3L1291.4 347.7L1291.9 352.2L1292.4 356.7L1293.0 361.2L1293.5 365.8L1294.0 370.3L1294.4 374.9L1294.8 379.7L1295.2 384.5L1295.5 389.3L1295.9 394.2L1296.2 399.0L1296.5 403.9L1296.9 408.8L1297.3 413.6L1297.7 418.4L1298.2 423.2L1298.7 427.9L1299.1 432.7L1299.6 437.5L1300.1 442.2L1300.6 447.0L1301.1 451.7L1301.6 456.3L1302.1 460.9L1302.6 465.5L1303.1 470.1L1303.6 474.7L1304.1 479.3L1304.5 483.9L1305.0 488.5L1305.5 493.3L1305.9 498.1L1306.3 502.9L1306.7 507.7L1307.2 512.5L1307.6 517.3L1308.0 522.1L1308.5 526.9L1309.0 531.6L1309.4 536.3L1309.9 541.0L1310.4 545.7L1310.9 550.4L1311.4 555.1L1312.0 559.8L1312.6 564.5L1313.3 569.2L1314.1 573.8L1314.9 578.5L1315.8 583.1L1316.6 587.8L1317.5 592.4L1318.3 597.0L1319.0 601.7L1319.6 606.3L1320.2 611.0L1320.8 615.6L1321.3 620.2L1321.8 624.9L1322.3 629.5L1322.9 634.2L1323.5 638.8L1324.1 643.4L1324.8 648.1L1325.5 652.7L1326.3 657.4L1327.0 662.0L1327.7 666.7L1328.4 671.3L1329.0 676.0L1329.6 680.7L1330.2 685.4L1330.7 690.1L1331.2 694.8L1331.7 699.5L1332.3 704.2L1332.9 708.9L1333.5 713.6L1334.2 718.4L1335.0 723.1L1335.9 727.9L1336.8 732.7L1337.6 737.4L1338.5 742.2L1339.2 747.0L1339.9 751.7L1340.5 756.4L1340.9 761.0L1341.3 765.7L1341.7 770.3L1342.1 775.0L1342.5 779.6L1342.9 784.3L1343.5 788.9L1344.2 793.6L1345.0 798.4L1345.8 803.2L1346.7 808.0L1347.6 812.7L1348.4 817.3L1349.1 821.7L1349.8 826.0L1350.2 829.3L1350.6 832.5L1350.9 835.7L1351.2 838.7L1351.5 841.7L1351.8 844.6L1352.1 847.3L1352.5 850.0L1352.8 852.0L1353.0 853.9L1353.3 855.8L1353.5 857.7L1353.8 859.4L1354.2 861.1L1354.7 862.6L1355.3 864.0L1355.9 865.0L1356.6 866.1L1357.3 867.1L1358.1 868.0L1358.9 868.8L1359.7 869.5L1360.5 869.9L1361.3 870.0L1362.1 869.8L1363.0 869.2L1363.9 868.4L1364.7 867.4L1365.6 866.2L1366.4 865.0L1367.2 863.7L1368.0 862.4L1368.9 860.7L1369.7 858.8L1370.4 856.7L1371.1 854.6L1371.8 852.3L1372.5 849.9L1373.3 847.5L1374.3 845.0L1375.9 841.1L1377.7 836.8L1379.7 832.1L1381.8 827.4L1384.0 822.7L1386.2 818.2L1388.4 814.1L1390.6 810.6L1392.1 808.5L1393.6 806.6L1395.2 804.9L1396.7 803.3L1398.3 801.7L1399.9 800.2L1401.3 798.8" stroke="#f0f" stroke-width="10" stroke-dasharray="38.8 36.9 38.8 36.9 38.8 36.8 38.9 36.8 38.8 36.9 38.8 36.9 38.8 36.8 38.9 36.8 38.9 36.8 38.8 36.9 38.8 36.9 38.8 36.8 39.4 37.4 38.6 36.6 38.9 36.9 39.2 37.2 38.2 36.2 36.4 34.6 38.2 36.3 38.8 36.8 37.1 35.1 40 38 39.4 37.3 38.3 36.3 39.1 37.1 37.7 35.7 40.5 38.5 38.7 36.8 38.4 36.5 38.6 36.7 39.2 37.2 38.5 36.6 38.7 36.8 39 37 39.1 37 38.9 37 15.9 99999"/>
<path d="M1023.0 251.7L1025.6 251.7L1028.2 251.7L1030.7 251.7L1033.3 251.7L1035.9 251.8L1038.4 251.8L1040.9 251.9L1043.5 252.0L1046.1 252.1L1048.7 252.2L1051.2 252.4L1053.6 252.6L1055.9 252.9L1058.2 253.3L1060.6 253.9L1062.8 243.4L1060.1 242.9L1057.3 242.6L1054.5 242.3L1051.8 242.2L1049.1 242.1L1046.5 242.0L1043.9 241.9L1041.3 241.8L1038.7 241.7L1036.0 241.7L1033.4 241.7L1030.8 241.7L1028.2 241.7L1025.6 241.7L1023.0 241.7ZM1087.7 271.2L1089.1 273.2L1090.2 275.1L1091.3 277.2L1092.3 279.5L1093.4 281.9L1094.4 284.3L1095.5 286.7L1096.5 289.0L1097.5 291.4L1098.5 293.8L1099.4 296.2L1100.3 298.6L1101.2 301.0L1102.1 303.4L1103.0 305.8L1113.4 302.3L1112.6 299.7L1111.7 297.2L1110.7 294.7L1109.8 292.2L1108.8 289.7L1107.8 287.2L1106.8 284.7L1105.8 282.2L1104.7 279.8L1103.7 277.4L1102.6 274.9L1101.5 272.4L1100.3 269.8L1098.9 267.2L1097.3 264.8ZM1112.4 341.3L1112.9 343.8L1113.4 346.3L1113.9 348.8L1114.4 351.3L1114.8 353.8L1115.3 356.3L1115.8 358.8L1116.2 361.3L1116.7 363.9L1117.1 366.4L1117.6 368.9L1118.0 371.5L1118.5 374.0L1118.9 376.6L1119.4 379.1L1129.8 377.2L1129.4 374.6L1128.9 372.1L1128.4 369.6L1128.0 367.1L1127.5 364.6L1127.1 362.0L1126.6 359.5L1126.2 357.0L1125.7 354.4L1125.3 351.9L1124.8 349.3L1124.3 346.8L1123.8 344.2L1123.3 341.7L1122.8 339.1ZM1126.2 414.9L1126.6 417.4L1127.0 419.9L1127.3 422.5L1127.6 425.0L1128.0 427.6L1128.3 430.1L1128.6 432.7L1128.9 435.3L1129.2 437.9L1129.5 440.5L1129.8 443.1L1130.1 445.7L1130.4 448.3L1130.8 451.0L1131.3 453.6L1141.7 451.8L1141.2 449.2L1140.8 446.8L1140.5 444.3L1140.1 441.8L1139.8 439.2L1139.5 436.7L1139.2 434.1L1138.9 431.5L1138.6 428.9L1138.3 426.3L1138.0 423.7L1137.7 421.1L1137.3 418.5L1137.0 415.9L1136.6 413.3ZM1152.2 459.1L1152.7 456.5L1153.2 453.9L1153.7 451.3L1154.2 448.7L1154.7 446.1L1155.1 443.5L1155.6 440.9L1156.0 438.3L1156.4 435.7L1156.9 433.1L1157.3 430.5L1157.7 427.9L1158.1 425.3L1158.5 422.7L1158.8 420.1L1148.5 418.6L1148.1 421.2L1147.7 423.7L1147.3 426.3L1146.9 428.9L1146.5 431.4L1146.0 434.0L1145.6 436.5L1145.2 439.1L1144.7 441.7L1144.2 444.2L1143.8 446.8L1143.3 449.3L1142.8 451.9L1142.3 454.4L1141.8 456.9ZM1163.1 383.1L1163.4 380.5L1163.7 378.0L1164.0 375.5L1164.4 373.0L1164.7 370.5L1165.0 367.9L1165.4 365.4L1165.7 362.9L1166.0 360.4L1166.4 357.9L1166.8 355.4L1167.1 352.9L1167.5 350.4L1167.9 347.9L1168.3 345.4L1157.9 343.8L1157.5 346.3L1157.1 348.8L1156.8 351.4L1156.4 353.9L1156.0 356.4L1155.7 359.0L1155.3 361.5L1155.0 364.0L1154.7 366.6L1154.3 369.1L1154.0 371.6L1153.7 374.2L1153.4 376.7L1153.0 379.2L1152.7 381.7ZM1174.7 310.1L1175.3 307.6L1175.8 305.0L1176.3 302.4L1176.9 299.9L1177.4 297.5L1178.0 295.1L1178.7 292.9L1178.9 292.5L1174.0 293.1L1172.4 292.6L1173.2 294.4L1174.0 296.6L1174.7 299.0L1175.3 301.4L1185.8 298.9L1185.2 296.3L1184.5 293.6L1183.7 290.8L1182.6 287.7L1178.5 282.8L1169.9 285.1L1168.3 289.5L1167.6 292.4L1167.0 295.1L1166.4 297.7L1165.9 300.3L1165.4 302.8L1164.8 305.3L1164.3 307.9ZM1185.2 485.0L1185.4 487.7L1185.7 490.4L1186.0 493.1L1186.3 495.9L1197.0 498.8L1197.3 494.3L1197.6 491.7L1197.9 489.1L1198.3 486.4L1198.6 483.8L1198.8 481.2L1199.1 478.5L1199.4 475.9L1199.7 473.2L1189.4 472.2L1189.1 474.8L1188.8 477.4L1188.5 480.0L1188.2 482.6L1187.9 485.2L1187.6 487.9L1187.3 490.5L1187.0 493.1L1186.8 493.9L1196.8 494.1L1196.4 491.7L1196.0 489.1L1195.7 486.6L1195.4 484.0ZM1210.7 361.2L1211.2 358.6L1211.7 356.0L1212.2 353.5L1212.7 350.9L1213.2 348.3L1213.7 345.8L1214.3 343.3L1214.9 340.8L1215.5 338.4L1216.2 336.0L1216.9 333.6L1217.7 331.3L1218.6 329.1L1219.5 326.9L1220.6 324.6L1210.4 319.8L1209.2 322.3L1208.2 325.0L1207.2 327.7L1206.4 330.4L1205.7 333.1L1205.0 335.7L1204.4 338.4L1203.8 341.0L1203.3 343.6L1202.7 346.3L1202.2 348.9L1201.8 351.5L1201.3 354.0L1200.8 356.6L1200.3 359.2ZM1233.8 322.0L1235.0 324.2L1236.0 326.3L1236.9 328.4L1237.8 330.6L1238.6 332.8L1239.3 335.1L1240.0 337.5L1240.7 339.9L1241.3 342.3L1241.9 344.7L1242.5 347.1L1243.0 349.5L1243.6 352.0L1244.1 354.4L1244.5 356.9L1255.0 355.0L1254.5 352.4L1254.0 349.9L1253.5 347.3L1253.0 344.8L1252.4 342.2L1251.8 339.7L1251.2 337.1L1250.5 334.6L1249.8 332.0L1249.1 329.4L1248.2 326.9L1247.3 324.3L1246.3 321.7L1245.2 319.2L1244.0 316.8ZM1254.3 469.0L1254.8 471.6L1255.3 474.2L1256.0 476.9L1256.8 479.6L1257.8 482.4L1259.1 485.0L1263.1 489.6L1271.3 486.6L1272.8 483.4L1273.8 480.4L1274.4 477.5L1274.8 474.7L1275.2 472.1L1275.5 469.5L1275.8 467.0L1265.5 465.7L1265.1 468.2L1264.8 470.7L1264.4 473.0L1264.0 475.2L1263.3 477.1L1262.5 478.7L1261.7 480.0L1267.5 479.3L1269.1 479.6L1268.1 477.7L1267.2 475.8L1266.5 473.7L1265.8 471.6L1265.2 469.3L1264.7 467.0ZM1283.9 352.4L1284.1 349.9L1284.4 347.3L1284.6 344.8L1284.8 342.2L1285.1 339.6L1285.3 337.1L1285.6 334.6L1285.9 332.0L1286.2 329.5L1286.5 327.0L1286.9 324.6L1287.4 322.2L1287.9 319.8L1288.5 317.5L1289.1 315.1L1278.6 312.3L1278.0 314.9L1277.4 317.6L1276.9 320.3L1276.5 323.0L1276.2 325.6L1275.9 328.2L1275.6 330.9L1275.3 333.5L1275.0 336.1L1274.8 338.7L1274.6 341.3L1274.3 343.8L1274.1 346.4L1273.9 349.0L1273.7 351.6ZM1285.1 339.6L1285.4 342.2L1285.8 344.7L1286.1 347.3L1286.4 349.8L1286.7 352.3L1287.0 354.9L1287.3 357.4L1287.6 360.0L1287.9 362.5L1288.2 365.0L1288.5 367.6L1288.7 370.1L1289.0 372.6L1289.2 375.1L1289.5 377.7L1299.7 376.8L1299.5 374.2L1299.3 371.6L1299.0 369.0L1298.8 366.5L1298.5 363.9L1298.2 361.3L1297.9 358.8L1297.6 356.2L1297.3 353.7L1297.0 351.1L1296.7 348.6L1296.4 346.0L1296.1 343.5L1295.8 340.9L1295.5 338.4ZM1307.4 565.3L1307.8 567.8L1308.2 570.4L1308.6 573.0L1309.0 575.6L1309.5 578.1L1309.9 580.7L1310.4 583.2L1310.9 585.7L1311.3 588.2L1311.8 590.8L1312.3 593.3L1312.7 595.8L1313.1 598.3L1313.5 600.7L1313.9 603.3L1324.3 601.7L1323.9 599.2L1323.5 596.6L1323.1 594.0L1322.7 591.4L1322.2 588.9L1321.8 586.3L1321.3 583.8L1320.8 581.3L1320.4 578.8L1319.9 576.2L1319.4 573.7L1319.0 571.2L1318.6 568.7L1318.2 566.3L1317.8 563.7ZM1318.3 639.5L1318.7 642.1L1319.0 644.7L1319.4 647.2L1319.8 649.8L1320.2 652.4L1320.6 654.9L1320.9 657.5L1321.3 660.0L1321.7 662.6L1322.1 665.1L1322.5 667.7L1322.9 670.2L1323.3 672.7L1323.6 675.3L1324.0 677.8L1334.3 676.4L1334.0 673.9L1333.6 671.3L1333.3 668.7L1332.9 666.1L1332.5 663.5L1332.1 661.0L1331.7 658.4L1331.3 655.9L1330.9 653.3L1330.6 650.8L1330.2 648.2L1329.8 645.7L1329.4 643.2L1329.0 640.6L1328.7 638.1ZM1328.3 714.4L1328.7 717.0L1329.1 719.6L1329.5 722.2L1330.0 724.8L1330.4 727.4L1330.9 729.9L1331.3 732.5L1331.8 735.1L1332.3 737.6L1332.7 740.1L1333.2 742.7L1333.6 745.2L1334.0 747.7L1334.4 750.2L1334.8 752.8L1345.1 751.3L1344.8 748.8L1344.4 746.1L1344.0 743.5L1343.6 740.9L1343.1 738.3L1342.7 735.7L1342.2 733.2L1341.8 730.6L1341.3 728.0L1340.8 725.5L1340.4 723.0L1339.9 720.4L1339.5 717.9L1339.1 715.4L1338.7 712.8ZM1338.3 789.7L1338.7 792.2L1339.1 794.9L1339.5 797.5L1339.9 800.1L1340.3 802.7L1340.8 805.3L1341.3 807.8L1341.7 810.4L1342.2 813.0L1342.7 815.5L1343.2 818.0L1343.6 820.6L1344.0 823.1L1344.4 825.6L1344.8 828.2L1355.2 826.7L1354.8 824.1L1354.4 821.4L1354.0 818.8L1353.6 816.2L1353.1 813.6L1352.6 811.0L1352.2 808.5L1351.7 805.9L1351.2 803.4L1350.8 800.8L1350.3 798.3L1349.9 795.8L1349.5 793.2L1349.1 790.7L1348.7 788.1ZM1350.4 867.0L1351.9 869.6L1354.2 872.4L1359.0 875.0L1365.4 874.5L1369.0 871.4L1370.9 868.7L1372.4 866.2L1373.8 863.5L1374.9 860.6L1375.8 857.9L1376.6 855.3L1377.3 852.9L1378.1 850.5L1379.0 848.3L1379.9 846.0L1369.6 841.8L1368.6 844.3L1367.7 846.9L1366.9 849.6L1366.1 852.1L1365.4 854.5L1364.5 856.6L1363.6 858.5L1362.5 860.4L1361.3 862.3L1360.2 863.8L1360.2 864.3L1361.7 864.5L1362.4 864.0L1361.4 862.9L1360.2 861.0ZM1395.3 814.0L1396.8 812.0L1398.3 810.2L1399.9 808.4L1401.6 806.7L1403.5 804.8L1405.4 802.9L1397.2 794.6L1395.3 796.5L1393.4 798.4L1391.4 800.4L1389.4 802.6L1387.5 804.9L1385.9 807.2Z" fill="#f0f"/>
</g>
<rect x="317.0" y="395.5" width="275.0" height="308.0" fill="#fff"/>
<g fill="none" stroke-width="10">
<path d="M331.0 429.2H403.4" stroke="#000"/>
<path d="M331.0 497.7H403.4" stroke="#f00" stroke-dasharray="38.3 8.7 20.3 8.7"/>
<path d="M331.0 577.2H403.4" stroke="#00f" stroke-dasharray="10.2 8.8"/>
<path d="M331.0 656.6H403.4" stroke="#f0f" stroke-dasharray="38 37"/>
</g>
<g fill="#000" stroke="#000" stroke-width="0.5" letter-spacing="0.6" font-size="48.5">
<text x="407.0" y="444.9">ideal</text>
<text x="407.0" y="503.2">K<tspan font-size="40" dx="2.3" dy="25.6">vfr</tspan><tspan dx="-3" dy="-25.6">=1</tspan></text>
<text x="407.0" y="583.3">K<tspan font-size="40" dx="2.3" dy="25.6">vfr</tspan><tspan dx="-3" dy="-25.6">=0.8</tspan></text>
<text x="407.0" y="663.0">K<tspan font-size="40" dx="2.3" dy="25.6">vfr</tspan><tspan dx="-3" dy="-25.6">=0.6</tspan></text>
</g>
<g fill="#262626" stroke="#262626" stroke-width="0.6" font-size="57">
<text x="175.8" y="57.6" text-anchor="end">10</text>
<text x="175.8" y="231.1" text-anchor="end">0</text>
<text x="175.8" y="404.7" text-anchor="end">−10</text>
<text x="175.8" y="578.2" text-anchor="end">−20</text>
<text x="175.8" y="751.8" text-anchor="end">−30</text>
<text x="175.8" y="925.3" text-anchor="end">−40</text>
<text x="154.0" y="991.6">10<tspan font-size="44.5" dx="-1.5" dy="-27.2">0</tspan></text>
<text x="556.7" y="991.6">10<tspan font-size="44.5" dx="-1.5" dy="-27.2">1</tspan></text>
<text x="959.3" y="991.6">10<tspan font-size="44.5" dx="-1.5" dy="-27.2">2</tspan></text>
<text x="1362.0" y="991.6">10<tspan font-size="44.5" dx="-1.5" dy="-27.2">3</tspan></text>
</g>
<g fill="#262626" stroke="#262626" stroke-width="0.6" letter-spacing="1.25" font-size="60" text-anchor="middle">
<text x="797.6" y="1062.7">Frequency (Hz)</text>
<text transform="translate(65.4 472.7) rotate(-90)">Magnitude (dB)</text>
</g>
</svg></body></html>
